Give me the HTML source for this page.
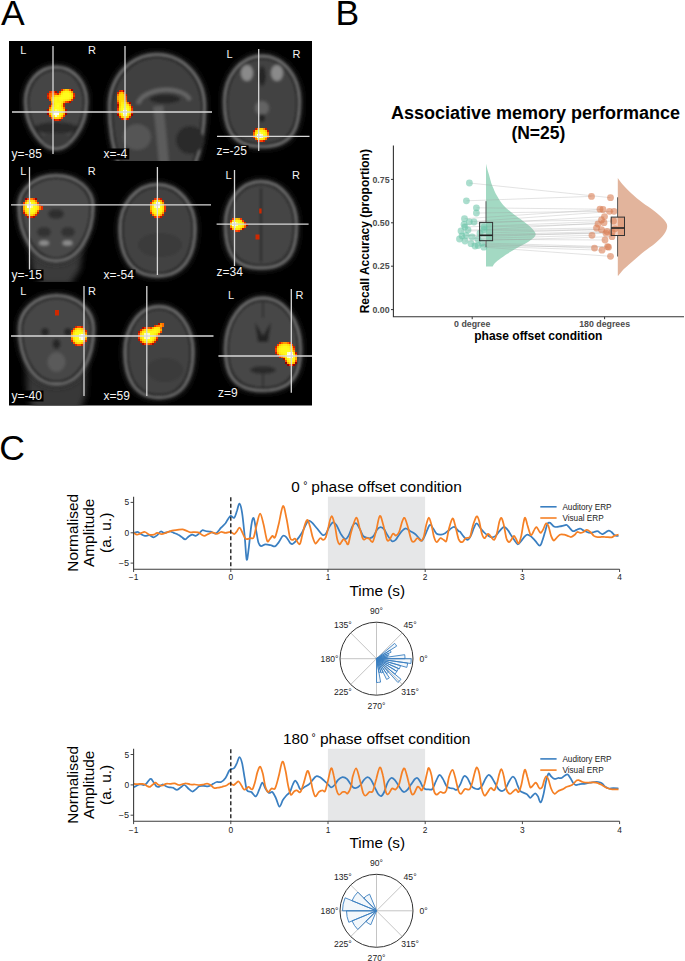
<!DOCTYPE html>
<html><head><meta charset="utf-8"><title>Figure</title>
<style>
html,body{margin:0;padding:0;background:#fff;}
body{width:685px;height:961px;overflow:hidden;position:relative;font-family:"Liberation Sans", sans-serif;}
svg{position:absolute;left:0;top:0;font-family:"Liberation Sans", sans-serif;}
</style></head><body>
<svg width="685" height="961" viewBox="0 0 685 961">
<defs>
<filter id="hb" x="-20%" y="-20%" width="140%" height="140%"><feGaussianBlur stdDeviation="1.6"/></filter>
<filter id="hb3" x="-20%" y="-20%" width="140%" height="140%"><feGaussianBlur stdDeviation="3"/></filter>
<filter id="bb" x="-30%" y="-30%" width="160%" height="160%"><feGaussianBlur stdDeviation="0.7"/></filter>
</defs>
<text x="0.9" y="24.5" font-size="35.5" fill="#000">A</text><text x="335.6" y="24.5" font-size="35.5" fill="#000">B</text><text x="-0.8" y="460.4" font-size="35.5" fill="#000">C</text>
<g id="panelA"><rect x="9" y="41" width="303" height="364.5" fill="#000"/><defs><clipPath id="r1"><rect x="9" y="41" width="303" height="120"/></clipPath><clipPath id="r2"><rect x="9" y="162" width="303" height="120"/></clipPath><clipPath id="r3"><rect x="9" y="283" width="303" height="122.5"/></clipPath></defs><g clip-path="url(#r1)"><g filter="url(#hb3)"><path d="M56.0,64.5 C74.5,64.5 89.0,80.6 89.0,101.0 C89.0,128.8 71.5,151.5 56.0,151.5 C40.5,151.5 23.0,128.8 23.0,101.0 C23.0,80.6 37.5,64.5 56.0,64.5 Z" fill="#2a2a2a"/></g><g filter="url(#hb)"><path d="M56.0,66.8 C73.2,66.8 86.7,82.0 86.7,101.4 C86.7,127.7 69.2,149.2 56.0,149.2 C42.8,149.2 25.3,127.7 25.3,101.4 C25.3,82.0 38.8,66.8 56.0,66.8 Z" fill="#191919" stroke="#7e7e7e" stroke-width="2.2"/><path d="M56.0,70.2 C71.3,70.2 83.3,84.2 83.3,102.0 C83.3,126.1 65.8,145.8 56.0,145.8 C46.2,145.8 28.7,126.1 28.7,102.0 C28.7,84.2 40.7,70.2 56.0,70.2 Z" fill="#454545"/><ellipse cx="56" cy="128" rx="22" ry="6" fill="#222" opacity="0.8"/><ellipse cx="56" cy="140" rx="14" ry="7" fill="#3a3a3a"/></g></g><g clip-path="url(#r1)"><g filter="url(#hb3)"><path d="M157.0,52.0 C185.0,52.0 207.0,75.7 207.0,105.8 C207.0,158.4 188.5,201.5 157.0,201.5 C125.5,201.5 107.0,158.4 107.0,105.8 C107.0,75.7 129.0,52.0 157.0,52.0 Z" fill="#2a2a2a"/></g><g filter="url(#hb)"><path d="M157.0,54.3 C183.7,54.3 204.7,77.3 204.7,106.5 C204.7,157.5 186.2,199.2 157.0,199.2 C127.8,199.2 109.3,157.5 109.3,106.5 C109.3,77.3 130.3,54.3 157.0,54.3 Z" fill="#191919" stroke="#7e7e7e" stroke-width="2.2"/><path d="M157.0,57.7 C181.8,57.7 201.3,79.6 201.3,107.4 C201.3,156.0 182.8,195.8 157.0,195.8 C131.2,195.8 112.7,156.0 112.7,107.4 C112.7,79.6 132.2,57.7 157.0,57.7 Z" fill="#404040"/><path d="M138,104 C142,88 182,84 190,100" fill="none" stroke="#676767" stroke-width="4"/><ellipse cx="165" cy="99" rx="15" ry="4.5" fill="#262626"/><path d="M158,106 C160,120 162,140 164,165" fill="none" stroke="#5c5c5c" stroke-width="10"/><ellipse cx="137" cy="137" rx="14" ry="13" fill="#555"/><ellipse cx="190" cy="140" rx="14" ry="14" fill="#2a2a2a"/></g></g><g clip-path="url(#r1)"><g filter="url(#hb3)"><path d="M262.0,53.5 C284.4,53.5 302.0,74.5 302.0,101.2 C302.0,127.5 296.5,149.0 262.0,149.0 C227.5,149.0 222.0,127.5 222.0,101.2 C222.0,74.5 239.6,53.5 262.0,53.5 Z" fill="#2a2a2a"/></g><g filter="url(#hb)"><path d="M262.0,55.8 C283.1,55.8 299.7,75.8 299.7,101.2 C299.7,126.2 294.2,146.7 262.0,146.7 C229.8,146.7 224.3,126.2 224.3,101.2 C224.3,75.8 240.9,55.8 262.0,55.8 Z" fill="#191919" stroke="#7e7e7e" stroke-width="2.2"/><path d="M262.0,59.2 C281.2,59.2 296.3,77.7 296.3,101.2 C296.3,124.4 290.8,143.3 262.0,143.3 C233.2,143.3 227.7,124.4 227.7,101.2 C227.7,77.7 242.8,59.2 262.0,59.2 Z" fill="#434343"/><ellipse cx="247" cy="73" rx="6" ry="8" fill="#8a8a8a"/><ellipse cx="277" cy="73" rx="6" ry="8" fill="#8a8a8a"/><ellipse cx="262" cy="76" rx="4" ry="10" fill="#252525"/><ellipse cx="262" cy="108" rx="7" ry="7" fill="#646464"/><ellipse cx="262" cy="118" rx="3" ry="4" fill="#222"/></g></g><g clip-path="url(#r2)" filter="url(#hb3)"><path d="M28,240 L84,240 L80,270 L70,285 L42,285 L32,270 Z" fill="#3a3a3a"/></g><g clip-path="url(#r2)"><g filter="url(#hb3)"><path d="M56.0,173.0 C78.1,173.0 95.5,187.3 95.5,205.6 C95.5,237.4 79.5,263.5 56.0,263.5 C32.5,263.5 16.5,237.4 16.5,205.6 C16.5,187.3 33.9,173.0 56.0,173.0 Z" fill="#2a2a2a"/></g><g filter="url(#hb)"><path d="M56.0,175.3 C76.8,175.3 93.2,188.9 93.2,206.2 C93.2,236.5 77.2,261.2 56.0,261.2 C34.8,261.2 18.8,236.5 18.8,206.2 C18.8,188.9 35.2,175.3 56.0,175.3 Z" fill="#191919" stroke="#7e7e7e" stroke-width="2.2"/><path d="M56.0,178.7 C74.9,178.7 89.8,191.2 89.8,207.2 C89.8,235.0 73.8,257.8 56.0,257.8 C38.2,257.8 22.2,235.0 22.2,207.2 C22.2,191.2 37.1,178.7 56.0,178.7 Z" fill="#484848"/><ellipse cx="56" cy="214" rx="8" ry="5" fill="#2e2e2e"/><ellipse cx="44" cy="243" rx="5" ry="2.5" fill="#909090"/><ellipse cx="67.5" cy="243" rx="5" ry="2.5" fill="#909090"/><ellipse cx="44" cy="232" rx="7" ry="5" fill="#333"/><ellipse cx="68" cy="232" rx="7" ry="5" fill="#333"/></g></g><g clip-path="url(#r2)"><g filter="url(#hb3)"><path d="M157.5,182.0 C179.9,182.0 197.5,202.4 197.5,228.3 C197.5,255.9 187.0,278.5 157.5,278.5 C128.0,278.5 117.5,255.9 117.5,228.3 C117.5,202.4 135.1,182.0 157.5,182.0 Z" fill="#2a2a2a"/></g><g filter="url(#hb)"><path d="M157.5,184.3 C178.6,184.3 195.2,203.7 195.2,228.4 C195.2,254.7 184.7,276.2 157.5,276.2 C130.3,276.2 119.8,254.7 119.8,228.4 C119.8,203.7 136.4,184.3 157.5,184.3 Z" fill="#191919" stroke="#7e7e7e" stroke-width="2.2"/><path d="M157.5,187.7 C176.7,187.7 191.8,205.7 191.8,228.5 C191.8,252.9 181.3,272.8 157.5,272.8 C133.7,272.8 123.2,252.9 123.2,228.5 C123.2,205.7 138.3,187.7 157.5,187.7 Z" fill="#424242"/><ellipse cx="160" cy="245" rx="22" ry="12" fill="#3a3a3a"/></g></g><g clip-path="url(#r2)"><g filter="url(#hb3)"><path d="M261.0,179.0 C282.3,179.0 299.0,199.1 299.0,224.8 C299.0,249.9 293.5,270.5 261.0,270.5 C228.5,270.5 223.0,249.9 223.0,224.8 C223.0,199.1 239.7,179.0 261.0,179.0 Z" fill="#2a2a2a"/></g><g filter="url(#hb)"><path d="M261.0,181.3 C281.0,181.3 296.7,200.4 296.7,224.8 C296.7,248.6 291.2,268.2 261.0,268.2 C230.8,268.2 225.3,248.6 225.3,224.8 C225.3,200.4 241.0,181.3 261.0,181.3 Z" fill="#191919" stroke="#7e7e7e" stroke-width="2.2"/><path d="M261.0,184.7 C279.1,184.7 293.3,202.3 293.3,224.8 C293.3,246.8 287.8,264.8 261.0,264.8 C234.2,264.8 228.7,246.8 228.7,224.8 C228.7,202.3 242.9,184.7 261.0,184.7 Z" fill="#444444"/><line x1="261" y1="188" x2="261" y2="262" stroke="#262626" stroke-width="2"/></g></g><g clip-path="url(#r3)" filter="url(#hb3)"><path d="M26,355 L87,355 L86,395 L80,410 L34,410 L27,395 Z" fill="#383838"/></g><g clip-path="url(#r3)"><g filter="url(#hb3)"><path d="M56.5,293.0 C78.6,293.0 96.0,308.6 96.0,328.5 C96.0,360.4 82.0,386.5 56.5,386.5 C31.0,386.5 17.0,360.4 17.0,328.5 C17.0,308.6 34.4,293.0 56.5,293.0 Z" fill="#2a2a2a"/></g><g filter="url(#hb)"><path d="M56.5,295.3 C77.3,295.3 93.7,310.2 93.7,329.1 C93.7,359.4 79.7,384.2 56.5,384.2 C33.3,384.2 19.3,359.4 19.3,329.1 C19.3,310.2 35.7,295.3 56.5,295.3 Z" fill="#191919" stroke="#7e7e7e" stroke-width="2.2"/><path d="M56.5,298.7 C75.4,298.7 90.3,312.4 90.3,329.9 C90.3,357.9 76.3,380.8 56.5,380.8 C36.7,380.8 22.7,357.9 22.7,329.9 C22.7,312.4 37.6,298.7 56.5,298.7 Z" fill="#464646"/><ellipse cx="45" cy="332" rx="4" ry="4" fill="#262626"/><ellipse cx="68" cy="332" rx="4" ry="4" fill="#262626"/><ellipse cx="56.5" cy="344" rx="4" ry="5" fill="#262626"/><ellipse cx="56.5" cy="362" rx="9" ry="10" fill="#5a5a5a"/></g></g><g clip-path="url(#r3)"><g filter="url(#hb3)"><path d="M159.0,304.0 C179.4,304.0 195.5,325.1 195.5,352.0 C195.5,378.4 186.5,400.0 159.0,400.0 C131.5,400.0 122.5,378.4 122.5,352.0 C122.5,325.1 138.6,304.0 159.0,304.0 Z" fill="#2a2a2a"/></g><g filter="url(#hb)"><path d="M159.0,306.3 C178.2,306.3 193.2,326.4 193.2,352.0 C193.2,377.1 184.2,397.7 159.0,397.7 C133.8,397.7 124.8,377.1 124.8,352.0 C124.8,326.4 139.8,306.3 159.0,306.3 Z" fill="#191919" stroke="#7e7e7e" stroke-width="2.2"/><path d="M159.0,309.7 C176.2,309.7 189.8,328.3 189.8,352.0 C189.8,375.3 180.8,394.3 159.0,394.3 C137.2,394.3 128.2,375.3 128.2,352.0 C128.2,328.3 141.8,309.7 159.0,309.7 Z" fill="#424242"/><ellipse cx="165" cy="370" rx="18" ry="12" fill="#3a3a3a"/></g></g><g clip-path="url(#r3)"><g filter="url(#hb3)"><path d="M263.0,295.5 C285.4,295.5 303.0,319.1 303.0,349.1 C303.0,373.3 296.5,393.0 263.0,393.0 C229.5,393.0 223.0,373.3 223.0,349.1 C223.0,319.1 240.6,295.5 263.0,295.5 Z" fill="#2a2a2a"/></g><g filter="url(#hb)"><path d="M263.0,297.8 C284.1,297.8 300.7,320.3 300.7,348.9 C300.7,371.9 294.2,390.7 263.0,390.7 C231.8,390.7 225.3,371.9 225.3,348.9 C225.3,320.3 241.9,297.8 263.0,297.8 Z" fill="#191919" stroke="#7e7e7e" stroke-width="2.2"/><path d="M263.0,301.2 C282.2,301.2 297.3,322.0 297.3,348.6 C297.3,369.9 290.8,387.3 263.0,387.3 C235.2,387.3 228.7,369.9 228.7,348.6 C228.7,322.0 243.8,301.2 263.0,301.2 Z" fill="#464646"/><path d="M255 322 L263 336 L271 322 L268 342 L258 342 Z" fill="#242424"/><ellipse cx="263" cy="370" rx="13" ry="4" fill="#2c2c2c"/><line x1="263" y1="300" x2="263" y2="318" stroke="#2a2a2a" stroke-width="1.5"/><line x1="263" y1="372" x2="263" y2="388" stroke="#2a2a2a" stroke-width="1.5"/></g></g><g filter="url(#bb)"><rect x="61.0" y="89.0" width="2.05" height="2.05" fill="#e02c00"/><rect x="63.0" y="89.0" width="2.05" height="2.05" fill="#ff9900"/><rect x="65.0" y="89.0" width="2.05" height="2.05" fill="#ffcc00"/><rect x="67.0" y="89.0" width="2.05" height="2.05" fill="#ffbc00"/><rect x="69.0" y="89.0" width="2.05" height="2.05" fill="#ff6100"/><rect x="71.0" y="89.0" width="2.05" height="2.05" fill="#a20500"/><rect x="49.0" y="91.0" width="2.05" height="2.05" fill="#e12d00"/><rect x="51.0" y="91.0" width="2.05" height="2.05" fill="#ff4800"/><rect x="53.0" y="91.0" width="2.05" height="2.05" fill="#fb3d00"/><rect x="55.0" y="91.0" width="2.05" height="2.05" fill="#b31000"/><rect x="59.0" y="91.0" width="2.05" height="2.05" fill="#e83100"/><rect x="61.0" y="91.0" width="2.05" height="2.05" fill="#ffd405"/><rect x="63.0" y="91.0" width="2.05" height="2.05" fill="#ffef15"/><rect x="65.0" y="91.0" width="2.05" height="2.05" fill="#fff619"/><rect x="67.0" y="91.0" width="2.05" height="2.05" fill="#fff418"/><rect x="69.0" y="91.0" width="2.05" height="2.05" fill="#ffe60f"/><rect x="71.0" y="91.0" width="2.05" height="2.05" fill="#ff9100"/><rect x="47.0" y="93.0" width="2.05" height="2.05" fill="#c41b00"/><rect x="49.0" y="93.0" width="2.05" height="2.05" fill="#ff5f00"/><rect x="51.0" y="93.0" width="2.05" height="2.05" fill="#ff6d00"/><rect x="53.0" y="93.0" width="2.05" height="2.05" fill="#ff6f00"/><rect x="55.0" y="93.0" width="2.05" height="2.05" fill="#ff5800"/><rect x="57.0" y="93.0" width="2.05" height="2.05" fill="#e32e00"/><rect x="59.0" y="93.0" width="2.05" height="2.05" fill="#ffac00"/><rect x="61.0" y="93.0" width="2.05" height="2.05" fill="#ffee14"/><rect x="63.0" y="93.0" width="2.05" height="2.05" fill="#fffa1b"/><rect x="65.0" y="93.0" width="2.05" height="2.05" fill="#fffb1c"/><rect x="67.0" y="93.0" width="2.05" height="2.05" fill="#fffb1c"/><rect x="69.0" y="93.0" width="2.05" height="2.05" fill="#fff619"/><rect x="71.0" y="93.0" width="2.05" height="2.05" fill="#ffdb09"/><rect x="73.0" y="93.0" width="2.05" height="2.05" fill="#e02c00"/><rect x="47.0" y="95.0" width="2.05" height="2.05" fill="#de2b00"/><rect x="49.0" y="95.0" width="2.05" height="2.05" fill="#ff6900"/><rect x="51.0" y="95.0" width="2.05" height="2.05" fill="#ff7c00"/><rect x="53.0" y="95.0" width="2.05" height="2.05" fill="#ffbf00"/><rect x="55.0" y="95.0" width="2.05" height="2.05" fill="#ffdb09"/><rect x="57.0" y="95.0" width="2.05" height="2.05" fill="#ffda08"/><rect x="59.0" y="95.0" width="2.05" height="2.05" fill="#ffe911"/><rect x="61.0" y="95.0" width="2.05" height="2.05" fill="#fff81a"/><rect x="63.0" y="95.0" width="2.05" height="2.05" fill="#fffb1c"/><rect x="65.0" y="95.0" width="2.05" height="2.05" fill="#fffb1c"/><rect x="67.0" y="95.0" width="2.05" height="2.05" fill="#fffb1c"/><rect x="69.0" y="95.0" width="2.05" height="2.05" fill="#fff81a"/><rect x="71.0" y="95.0" width="2.05" height="2.05" fill="#ffe10c"/><rect x="73.0" y="95.0" width="2.05" height="2.05" fill="#f23700"/><rect x="47.0" y="97.0" width="2.05" height="2.05" fill="#c41b00"/><rect x="49.0" y="97.0" width="2.05" height="2.05" fill="#ff6300"/><rect x="51.0" y="97.0" width="2.05" height="2.05" fill="#ffb700"/><rect x="53.0" y="97.0" width="2.05" height="2.05" fill="#ffea12"/><rect x="55.0" y="97.0" width="2.05" height="2.05" fill="#fff71a"/><rect x="57.0" y="97.0" width="2.05" height="2.05" fill="#fff518"/><rect x="59.0" y="97.0" width="2.05" height="2.05" fill="#fff91b"/><rect x="61.0" y="97.0" width="2.05" height="2.05" fill="#fffd1d"/><rect x="63.0" y="97.0" width="2.05" height="2.05" fill="#fffc1d"/><rect x="65.0" y="97.0" width="2.05" height="2.05" fill="#fffa1c"/><rect x="67.0" y="97.0" width="2.05" height="2.05" fill="#fff91b"/><rect x="69.0" y="97.0" width="2.05" height="2.05" fill="#fff116"/><rect x="71.0" y="97.0" width="2.05" height="2.05" fill="#ffce01"/><rect x="73.0" y="97.0" width="2.05" height="2.05" fill="#bf1700"/><rect x="49.0" y="99.0" width="2.05" height="2.05" fill="#ee3500"/><rect x="51.0" y="99.0" width="2.05" height="2.05" fill="#ffcf02"/><rect x="53.0" y="99.0" width="2.05" height="2.05" fill="#fff418"/><rect x="55.0" y="99.0" width="2.05" height="2.05" fill="#fff81a"/><rect x="57.0" y="99.0" width="2.05" height="2.05" fill="#fff317"/><rect x="59.0" y="99.0" width="2.05" height="2.05" fill="#fff71a"/><rect x="61.0" y="99.0" width="2.05" height="2.05" fill="#fff91b"/><rect x="63.0" y="99.0" width="2.05" height="2.05" fill="#fff116"/><rect x="65.0" y="99.0" width="2.05" height="2.05" fill="#ffea12"/><rect x="67.0" y="99.0" width="2.05" height="2.05" fill="#ffe50f"/><rect x="69.0" y="99.0" width="2.05" height="2.05" fill="#ffce01"/><rect x="71.0" y="99.0" width="2.05" height="2.05" fill="#f43900"/><rect x="51.0" y="101.0" width="2.05" height="2.05" fill="#ff8c00"/><rect x="53.0" y="101.0" width="2.05" height="2.05" fill="#ffee14"/><rect x="55.0" y="101.0" width="2.05" height="2.05" fill="#fff71a"/><rect x="57.0" y="101.0" width="2.05" height="2.05" fill="#fff619"/><rect x="59.0" y="101.0" width="2.05" height="2.05" fill="#fff518"/><rect x="61.0" y="101.0" width="2.05" height="2.05" fill="#ffeb13"/><rect x="63.0" y="101.0" width="2.05" height="2.05" fill="#ffb700"/><rect x="65.0" y="101.0" width="2.05" height="2.05" fill="#ff5100"/><rect x="67.0" y="101.0" width="2.05" height="2.05" fill="#f23700"/><rect x="69.0" y="101.0" width="2.05" height="2.05" fill="#b10f00"/><rect x="51.0" y="103.0" width="2.05" height="2.05" fill="#ff5600"/><rect x="53.0" y="103.0" width="2.05" height="2.05" fill="#ffe911"/><rect x="55.0" y="103.0" width="2.05" height="2.05" fill="#fffc1d"/><rect x="57.0" y="103.0" width="2.05" height="2.05" fill="#fffe1e"/><rect x="59.0" y="103.0" width="2.05" height="2.05" fill="#fff91b"/><rect x="61.0" y="103.0" width="2.05" height="2.05" fill="#ffdc09"/><rect x="63.0" y="103.0" width="2.05" height="2.05" fill="#d32400"/><rect x="49.0" y="105.0" width="2.05" height="2.05" fill="#c81d00"/><rect x="51.0" y="105.0" width="2.05" height="2.05" fill="#ffb400"/><rect x="53.0" y="105.0" width="2.05" height="2.05" fill="#ffee14"/><rect x="55.0" y="105.0" width="2.05" height="2.05" fill="#fffd1d"/><rect x="57.0" y="105.0" width="2.05" height="2.05" fill="#ffff29"/><rect x="59.0" y="105.0" width="2.05" height="2.05" fill="#fff71a"/><rect x="61.0" y="105.0" width="2.05" height="2.05" fill="#ffd505"/><rect x="63.0" y="105.0" width="2.05" height="2.05" fill="#d62600"/><rect x="49.0" y="107.0" width="2.05" height="2.05" fill="#ff7c00"/><rect x="51.0" y="107.0" width="2.05" height="2.05" fill="#ffe60f"/><rect x="53.0" y="107.0" width="2.05" height="2.05" fill="#fff91b"/><rect x="55.0" y="107.0" width="2.05" height="2.05" fill="#fffe1e"/><rect x="57.0" y="107.0" width="2.05" height="2.05" fill="#ffff1f"/><rect x="59.0" y="107.0" width="2.05" height="2.05" fill="#fffa1b"/><rect x="61.0" y="107.0" width="2.05" height="2.05" fill="#ffe610"/><rect x="63.0" y="107.0" width="2.05" height="2.05" fill="#ff7c00"/><rect x="47.0" y="109.0" width="2.05" height="2.05" fill="#b31000"/><rect x="49.0" y="109.0" width="2.05" height="2.05" fill="#ffc600"/><rect x="51.0" y="109.0" width="2.05" height="2.05" fill="#fff317"/><rect x="53.0" y="109.0" width="2.05" height="2.05" fill="#ffff1f"/><rect x="55.0" y="109.0" width="2.05" height="2.05" fill="#ffff60"/><rect x="57.0" y="109.0" width="2.05" height="2.05" fill="#ffff34"/><rect x="59.0" y="109.0" width="2.05" height="2.05" fill="#fffe1e"/><rect x="61.0" y="109.0" width="2.05" height="2.05" fill="#fff317"/><rect x="63.0" y="109.0" width="2.05" height="2.05" fill="#ffc600"/><rect x="65.0" y="109.0" width="2.05" height="2.05" fill="#b31000"/><rect x="47.0" y="111.0" width="2.05" height="2.05" fill="#bd1600"/><rect x="49.0" y="111.0" width="2.05" height="2.05" fill="#ffce01"/><rect x="51.0" y="111.0" width="2.05" height="2.05" fill="#fff619"/><rect x="53.0" y="111.0" width="2.05" height="2.05" fill="#ffffd8"/><rect x="55.0" y="111.0" width="2.05" height="2.05" fill="#fffff2"/><rect x="57.0" y="111.0" width="2.05" height="2.05" fill="#ffffda"/><rect x="59.0" y="111.0" width="2.05" height="2.05" fill="#ffff1f"/><rect x="61.0" y="111.0" width="2.05" height="2.05" fill="#fff519"/><rect x="63.0" y="111.0" width="2.05" height="2.05" fill="#ffce01"/><rect x="65.0" y="111.0" width="2.05" height="2.05" fill="#bd1600"/><rect x="47.0" y="113.0" width="2.05" height="2.05" fill="#a00400"/><rect x="49.0" y="113.0" width="2.05" height="2.05" fill="#ffa900"/><rect x="51.0" y="113.0" width="2.05" height="2.05" fill="#fff016"/><rect x="53.0" y="113.0" width="2.05" height="2.05" fill="#fffff2"/><rect x="55.0" y="113.0" width="2.05" height="2.05" fill="#fffff2"/><rect x="57.0" y="113.0" width="2.05" height="2.05" fill="#fffff2"/><rect x="59.0" y="113.0" width="2.05" height="2.05" fill="#fffd1d"/><rect x="61.0" y="113.0" width="2.05" height="2.05" fill="#ffef15"/><rect x="63.0" y="113.0" width="2.05" height="2.05" fill="#ffa900"/><rect x="65.0" y="113.0" width="2.05" height="2.05" fill="#a00400"/><rect x="49.0" y="115.0" width="2.05" height="2.05" fill="#fe3f00"/><rect x="51.0" y="115.0" width="2.05" height="2.05" fill="#ffd706"/><rect x="53.0" y="115.0" width="2.05" height="2.05" fill="#fffc1d"/><rect x="55.0" y="115.0" width="2.05" height="2.05" fill="#ffffcb"/><rect x="57.0" y="115.0" width="2.05" height="2.05" fill="#ffff46"/><rect x="59.0" y="115.0" width="2.05" height="2.05" fill="#fff116"/><rect x="61.0" y="115.0" width="2.05" height="2.05" fill="#ffd706"/><rect x="63.0" y="115.0" width="2.05" height="2.05" fill="#fe3f00"/><rect x="51.0" y="117.0" width="2.05" height="2.05" fill="#ff4e00"/><rect x="53.0" y="117.0" width="2.05" height="2.05" fill="#ffc600"/><rect x="55.0" y="117.0" width="2.05" height="2.05" fill="#ffdb09"/><rect x="57.0" y="117.0" width="2.05" height="2.05" fill="#ffdb09"/><rect x="59.0" y="117.0" width="2.05" height="2.05" fill="#ffc600"/><rect x="61.0" y="117.0" width="2.05" height="2.05" fill="#ff4e00"/><rect x="53.0" y="119.0" width="2.05" height="2.05" fill="#bd1600"/><rect x="55.0" y="119.0" width="2.05" height="2.05" fill="#e83100"/><rect x="57.0" y="119.0" width="2.05" height="2.05" fill="#e83100"/><rect x="59.0" y="119.0" width="2.05" height="2.05" fill="#bd1600"/></g><g filter="url(#bb)"><rect x="119.0" y="90.0" width="2.05" height="2.05" fill="#d72600"/><rect x="121.0" y="90.0" width="2.05" height="2.05" fill="#f13700"/><rect x="123.0" y="90.0" width="2.05" height="2.05" fill="#a30600"/><rect x="117.0" y="92.0" width="2.05" height="2.05" fill="#d72700"/><rect x="119.0" y="92.0" width="2.05" height="2.05" fill="#ffab00"/><rect x="121.0" y="92.0" width="2.05" height="2.05" fill="#ffc100"/><rect x="123.0" y="92.0" width="2.05" height="2.05" fill="#ff7300"/><rect x="117.0" y="94.0" width="2.05" height="2.05" fill="#ff7e00"/><rect x="119.0" y="94.0" width="2.05" height="2.05" fill="#ffd304"/><rect x="121.0" y="94.0" width="2.05" height="2.05" fill="#ffd505"/><rect x="123.0" y="94.0" width="2.05" height="2.05" fill="#ffc700"/><rect x="125.0" y="94.0" width="2.05" height="2.05" fill="#c61c00"/><rect x="117.0" y="96.0" width="2.05" height="2.05" fill="#ffac00"/><rect x="119.0" y="96.0" width="2.05" height="2.05" fill="#ffd505"/><rect x="121.0" y="96.0" width="2.05" height="2.05" fill="#ffd606"/><rect x="123.0" y="96.0" width="2.05" height="2.05" fill="#ffd203"/><rect x="125.0" y="96.0" width="2.05" height="2.05" fill="#f33800"/><rect x="117.0" y="98.0" width="2.05" height="2.05" fill="#ffac00"/><rect x="119.0" y="98.0" width="2.05" height="2.05" fill="#ffd606"/><rect x="121.0" y="98.0" width="2.05" height="2.05" fill="#ffd706"/><rect x="123.0" y="98.0" width="2.05" height="2.05" fill="#ffd405"/><rect x="125.0" y="98.0" width="2.05" height="2.05" fill="#ff4000"/><rect x="117.0" y="100.0" width="2.05" height="2.05" fill="#ff7f00"/><rect x="119.0" y="100.0" width="2.05" height="2.05" fill="#ffd606"/><rect x="121.0" y="100.0" width="2.05" height="2.05" fill="#ffdf0b"/><rect x="123.0" y="100.0" width="2.05" height="2.05" fill="#ffde0b"/><rect x="125.0" y="100.0" width="2.05" height="2.05" fill="#ff7000"/><rect x="117.0" y="102.0" width="2.05" height="2.05" fill="#e63000"/><rect x="119.0" y="102.0" width="2.05" height="2.05" fill="#ffd505"/><rect x="121.0" y="102.0" width="2.05" height="2.05" fill="#ffec13"/><rect x="123.0" y="102.0" width="2.05" height="2.05" fill="#ffec13"/><rect x="125.0" y="102.0" width="2.05" height="2.05" fill="#ffd304"/><rect x="127.0" y="102.0" width="2.05" height="2.05" fill="#ff6c00"/><rect x="129.0" y="102.0" width="2.05" height="2.05" fill="#a60800"/><rect x="117.0" y="104.0" width="2.05" height="2.05" fill="#ad0c00"/><rect x="119.0" y="104.0" width="2.05" height="2.05" fill="#ffd103"/><rect x="121.0" y="104.0" width="2.05" height="2.05" fill="#fff317"/><rect x="123.0" y="104.0" width="2.05" height="2.05" fill="#fff81a"/><rect x="125.0" y="104.0" width="2.05" height="2.05" fill="#fff317"/><rect x="127.0" y="104.0" width="2.05" height="2.05" fill="#ffe10c"/><rect x="129.0" y="104.0" width="2.05" height="2.05" fill="#ff7200"/><rect x="117.0" y="106.0" width="2.05" height="2.05" fill="#c61c00"/><rect x="119.0" y="106.0" width="2.05" height="2.05" fill="#ffd908"/><rect x="121.0" y="106.0" width="2.05" height="2.05" fill="#fff91b"/><rect x="123.0" y="106.0" width="2.05" height="2.05" fill="#fffe1e"/><rect x="125.0" y="106.0" width="2.05" height="2.05" fill="#fffd1d"/><rect x="127.0" y="106.0" width="2.05" height="2.05" fill="#fff719"/><rect x="129.0" y="106.0" width="2.05" height="2.05" fill="#ffd505"/><rect x="131.0" y="106.0" width="2.05" height="2.05" fill="#c31a00"/><rect x="117.0" y="108.0" width="2.05" height="2.05" fill="#f33800"/><rect x="119.0" y="108.0" width="2.05" height="2.05" fill="#ffe60f"/><rect x="121.0" y="108.0" width="2.05" height="2.05" fill="#fffd1d"/><rect x="123.0" y="108.0" width="2.05" height="2.05" fill="#ffff4c"/><rect x="125.0" y="108.0" width="2.05" height="2.05" fill="#ffff4c"/><rect x="127.0" y="108.0" width="2.05" height="2.05" fill="#fffd1d"/><rect x="129.0" y="108.0" width="2.05" height="2.05" fill="#ffe60f"/><rect x="131.0" y="108.0" width="2.05" height="2.05" fill="#f33800"/><rect x="117.0" y="110.0" width="2.05" height="2.05" fill="#fd3f00"/><rect x="119.0" y="110.0" width="2.05" height="2.05" fill="#ffe811"/><rect x="121.0" y="110.0" width="2.05" height="2.05" fill="#ffff25"/><rect x="123.0" y="110.0" width="2.05" height="2.05" fill="#fffff2"/><rect x="125.0" y="110.0" width="2.05" height="2.05" fill="#fffff2"/><rect x="127.0" y="110.0" width="2.05" height="2.05" fill="#ffff25"/><rect x="129.0" y="110.0" width="2.05" height="2.05" fill="#ffe811"/><rect x="131.0" y="110.0" width="2.05" height="2.05" fill="#fd3f00"/><rect x="117.0" y="112.0" width="2.05" height="2.05" fill="#df2c00"/><rect x="119.0" y="112.0" width="2.05" height="2.05" fill="#ffdf0b"/><rect x="121.0" y="112.0" width="2.05" height="2.05" fill="#ffff1f"/><rect x="123.0" y="112.0" width="2.05" height="2.05" fill="#fffff2"/><rect x="125.0" y="112.0" width="2.05" height="2.05" fill="#fffff2"/><rect x="127.0" y="112.0" width="2.05" height="2.05" fill="#ffff1f"/><rect x="129.0" y="112.0" width="2.05" height="2.05" fill="#ffdf0b"/><rect x="131.0" y="112.0" width="2.05" height="2.05" fill="#df2c00"/><rect x="117.0" y="114.0" width="2.05" height="2.05" fill="#a00400"/><rect x="119.0" y="114.0" width="2.05" height="2.05" fill="#ffb600"/><rect x="121.0" y="114.0" width="2.05" height="2.05" fill="#ffef15"/><rect x="123.0" y="114.0" width="2.05" height="2.05" fill="#ffffa6"/><rect x="125.0" y="114.0" width="2.05" height="2.05" fill="#ffffa6"/><rect x="127.0" y="114.0" width="2.05" height="2.05" fill="#ffef15"/><rect x="129.0" y="114.0" width="2.05" height="2.05" fill="#ffb600"/><rect x="131.0" y="114.0" width="2.05" height="2.05" fill="#a00400"/><rect x="119.0" y="116.0" width="2.05" height="2.05" fill="#e73000"/><rect x="121.0" y="116.0" width="2.05" height="2.05" fill="#ffc900"/><rect x="123.0" y="116.0" width="2.05" height="2.05" fill="#ffe20d"/><rect x="125.0" y="116.0" width="2.05" height="2.05" fill="#ffe20d"/><rect x="127.0" y="116.0" width="2.05" height="2.05" fill="#ffc900"/><rect x="129.0" y="116.0" width="2.05" height="2.05" fill="#e73000"/><rect x="121.0" y="118.0" width="2.05" height="2.05" fill="#cf2100"/><rect x="123.0" y="118.0" width="2.05" height="2.05" fill="#ff5300"/><rect x="125.0" y="118.0" width="2.05" height="2.05" fill="#ff5300"/><rect x="127.0" y="118.0" width="2.05" height="2.05" fill="#cf2100"/></g><g filter="url(#bb)"><rect x="255.0" y="128.0" width="2.05" height="2.05" fill="#c51b00"/><rect x="257.0" y="128.0" width="2.05" height="2.05" fill="#ff8700"/><rect x="259.0" y="128.0" width="2.05" height="2.05" fill="#ffcd00"/><rect x="261.0" y="128.0" width="2.05" height="2.05" fill="#ffcd00"/><rect x="263.0" y="128.0" width="2.05" height="2.05" fill="#ff8700"/><rect x="265.0" y="128.0" width="2.05" height="2.05" fill="#c51b00"/><rect x="253.0" y="130.0" width="2.05" height="2.05" fill="#bf1800"/><rect x="255.0" y="130.0" width="2.05" height="2.05" fill="#ffc800"/><rect x="257.0" y="130.0" width="2.05" height="2.05" fill="#ffef15"/><rect x="259.0" y="130.0" width="2.05" height="2.05" fill="#fff91b"/><rect x="261.0" y="130.0" width="2.05" height="2.05" fill="#fff91b"/><rect x="263.0" y="130.0" width="2.05" height="2.05" fill="#ffef15"/><rect x="265.0" y="130.0" width="2.05" height="2.05" fill="#ffc800"/><rect x="267.0" y="130.0" width="2.05" height="2.05" fill="#bf1800"/><rect x="253.0" y="132.0" width="2.05" height="2.05" fill="#ff6100"/><rect x="255.0" y="132.0" width="2.05" height="2.05" fill="#ffe911"/><rect x="257.0" y="132.0" width="2.05" height="2.05" fill="#fffe1e"/><rect x="259.0" y="132.0" width="2.05" height="2.05" fill="#ffff5b"/><rect x="261.0" y="132.0" width="2.05" height="2.05" fill="#ffff2a"/><rect x="263.0" y="132.0" width="2.05" height="2.05" fill="#fffd1d"/><rect x="265.0" y="132.0" width="2.05" height="2.05" fill="#ffe911"/><rect x="267.0" y="132.0" width="2.05" height="2.05" fill="#ff6100"/><rect x="253.0" y="134.0" width="2.05" height="2.05" fill="#ff7900"/><rect x="255.0" y="134.0" width="2.05" height="2.05" fill="#fff317"/><rect x="257.0" y="134.0" width="2.05" height="2.05" fill="#fffff2"/><rect x="259.0" y="134.0" width="2.05" height="2.05" fill="#fffff2"/><rect x="261.0" y="134.0" width="2.05" height="2.05" fill="#ffffbf"/><rect x="263.0" y="134.0" width="2.05" height="2.05" fill="#fffe1e"/><rect x="265.0" y="134.0" width="2.05" height="2.05" fill="#ffee14"/><rect x="267.0" y="134.0" width="2.05" height="2.05" fill="#ff7900"/><rect x="253.0" y="136.0" width="2.05" height="2.05" fill="#f33800"/><rect x="255.0" y="136.0" width="2.05" height="2.05" fill="#ffe610"/><rect x="257.0" y="136.0" width="2.05" height="2.05" fill="#fffff2"/><rect x="259.0" y="136.0" width="2.05" height="2.05" fill="#fffff2"/><rect x="261.0" y="136.0" width="2.05" height="2.05" fill="#ffffb9"/><rect x="263.0" y="136.0" width="2.05" height="2.05" fill="#fff91b"/><rect x="265.0" y="136.0" width="2.05" height="2.05" fill="#ffdf0b"/><rect x="267.0" y="136.0" width="2.05" height="2.05" fill="#f33800"/><rect x="255.0" y="138.0" width="2.05" height="2.05" fill="#ff6900"/><rect x="257.0" y="138.0" width="2.05" height="2.05" fill="#ffe00c"/><rect x="259.0" y="138.0" width="2.05" height="2.05" fill="#fff317"/><rect x="261.0" y="138.0" width="2.05" height="2.05" fill="#ffec13"/><rect x="263.0" y="138.0" width="2.05" height="2.05" fill="#ffda08"/><rect x="265.0" y="138.0" width="2.05" height="2.05" fill="#ff6900"/><rect x="257.0" y="140.0" width="2.05" height="2.05" fill="#c91e00"/><rect x="259.0" y="140.0" width="2.05" height="2.05" fill="#ff4000"/><rect x="261.0" y="140.0" width="2.05" height="2.05" fill="#ff4000"/><rect x="263.0" y="140.0" width="2.05" height="2.05" fill="#c91e00"/></g><g filter="url(#bb)"><rect x="25.0" y="198.0" width="2.05" height="2.05" fill="#a10500"/><rect x="27.0" y="198.0" width="2.05" height="2.05" fill="#fe3f00"/><rect x="29.0" y="198.0" width="2.05" height="2.05" fill="#ff8400"/><rect x="31.0" y="198.0" width="2.05" height="2.05" fill="#ff8400"/><rect x="33.0" y="198.0" width="2.05" height="2.05" fill="#fe3f00"/><rect x="35.0" y="198.0" width="2.05" height="2.05" fill="#a10500"/><rect x="25.0" y="200.0" width="2.05" height="2.05" fill="#ff7300"/><rect x="27.0" y="200.0" width="2.05" height="2.05" fill="#ffd807"/><rect x="29.0" y="200.0" width="2.05" height="2.05" fill="#ffe811"/><rect x="31.0" y="200.0" width="2.05" height="2.05" fill="#ffe811"/><rect x="33.0" y="200.0" width="2.05" height="2.05" fill="#ffd807"/><rect x="35.0" y="200.0" width="2.05" height="2.05" fill="#ff7300"/><rect x="23.0" y="202.0" width="2.05" height="2.05" fill="#f33800"/><rect x="25.0" y="202.0" width="2.05" height="2.05" fill="#ffd807"/><rect x="27.0" y="202.0" width="2.05" height="2.05" fill="#ffff3e"/><rect x="29.0" y="202.0" width="2.05" height="2.05" fill="#ffffc8"/><rect x="31.0" y="202.0" width="2.05" height="2.05" fill="#fffd1d"/><rect x="33.0" y="202.0" width="2.05" height="2.05" fill="#fff418"/><rect x="35.0" y="202.0" width="2.05" height="2.05" fill="#ffd807"/><rect x="37.0" y="202.0" width="2.05" height="2.05" fill="#f33800"/><rect x="23.0" y="204.0" width="2.05" height="2.05" fill="#ff8800"/><rect x="25.0" y="204.0" width="2.05" height="2.05" fill="#ffee14"/><rect x="27.0" y="204.0" width="2.05" height="2.05" fill="#fffff2"/><rect x="29.0" y="204.0" width="2.05" height="2.05" fill="#fffff2"/><rect x="31.0" y="204.0" width="2.05" height="2.05" fill="#ffffa5"/><rect x="33.0" y="204.0" width="2.05" height="2.05" fill="#fffc1d"/><rect x="35.0" y="204.0" width="2.05" height="2.05" fill="#ffec13"/><rect x="37.0" y="204.0" width="2.05" height="2.05" fill="#ff9200"/><rect x="39.0" y="204.0" width="2.05" height="2.05" fill="#a70900"/><rect x="23.0" y="206.0" width="2.05" height="2.05" fill="#ffad00"/><rect x="25.0" y="206.0" width="2.05" height="2.05" fill="#fff317"/><rect x="27.0" y="206.0" width="2.05" height="2.05" fill="#ffffe7"/><rect x="29.0" y="206.0" width="2.05" height="2.05" fill="#fffff2"/><rect x="31.0" y="206.0" width="2.05" height="2.05" fill="#ffff7c"/><rect x="33.0" y="206.0" width="2.05" height="2.05" fill="#fffe1e"/><rect x="35.0" y="206.0" width="2.05" height="2.05" fill="#fff418"/><rect x="37.0" y="206.0" width="2.05" height="2.05" fill="#ffdf0b"/><rect x="39.0" y="206.0" width="2.05" height="2.05" fill="#ff7f00"/><rect x="41.0" y="206.0" width="2.05" height="2.05" fill="#e52f00"/><rect x="23.0" y="208.0" width="2.05" height="2.05" fill="#ffa100"/><rect x="25.0" y="208.0" width="2.05" height="2.05" fill="#fff116"/><rect x="27.0" y="208.0" width="2.05" height="2.05" fill="#ffff23"/><rect x="29.0" y="208.0" width="2.05" height="2.05" fill="#ffff5b"/><rect x="31.0" y="208.0" width="2.05" height="2.05" fill="#ffff28"/><rect x="33.0" y="208.0" width="2.05" height="2.05" fill="#fffe1e"/><rect x="35.0" y="208.0" width="2.05" height="2.05" fill="#fff217"/><rect x="37.0" y="208.0" width="2.05" height="2.05" fill="#ffdc0a"/><rect x="39.0" y="208.0" width="2.05" height="2.05" fill="#ff7a00"/><rect x="41.0" y="208.0" width="2.05" height="2.05" fill="#e42f00"/><rect x="23.0" y="210.0" width="2.05" height="2.05" fill="#ff6200"/><rect x="25.0" y="210.0" width="2.05" height="2.05" fill="#ffe50f"/><rect x="27.0" y="210.0" width="2.05" height="2.05" fill="#fffa1b"/><rect x="29.0" y="210.0" width="2.05" height="2.05" fill="#fffe1e"/><rect x="31.0" y="210.0" width="2.05" height="2.05" fill="#fffe1e"/><rect x="33.0" y="210.0" width="2.05" height="2.05" fill="#fffa1b"/><rect x="35.0" y="210.0" width="2.05" height="2.05" fill="#ffe50f"/><rect x="37.0" y="210.0" width="2.05" height="2.05" fill="#ff6d00"/><rect x="23.0" y="212.0" width="2.05" height="2.05" fill="#c71c00"/><rect x="25.0" y="212.0" width="2.05" height="2.05" fill="#ffbc00"/><rect x="27.0" y="212.0" width="2.05" height="2.05" fill="#ffea12"/><rect x="29.0" y="212.0" width="2.05" height="2.05" fill="#fff518"/><rect x="31.0" y="212.0" width="2.05" height="2.05" fill="#fff518"/><rect x="33.0" y="212.0" width="2.05" height="2.05" fill="#ffea12"/><rect x="35.0" y="212.0" width="2.05" height="2.05" fill="#ffbc00"/><rect x="37.0" y="212.0" width="2.05" height="2.05" fill="#c71c00"/><rect x="25.0" y="214.0" width="2.05" height="2.05" fill="#e42f00"/><rect x="27.0" y="214.0" width="2.05" height="2.05" fill="#ffa300"/><rect x="29.0" y="214.0" width="2.05" height="2.05" fill="#ffd304"/><rect x="31.0" y="214.0" width="2.05" height="2.05" fill="#ffd304"/><rect x="33.0" y="214.0" width="2.05" height="2.05" fill="#ffa300"/><rect x="35.0" y="214.0" width="2.05" height="2.05" fill="#e42f00"/><rect x="27.0" y="216.0" width="2.05" height="2.05" fill="#b00e00"/><rect x="29.0" y="216.0" width="2.05" height="2.05" fill="#de2b00"/><rect x="31.0" y="216.0" width="2.05" height="2.05" fill="#de2b00"/><rect x="33.0" y="216.0" width="2.05" height="2.05" fill="#b00e00"/></g><g filter="url(#bb)"><rect x="154.0" y="198.0" width="2.05" height="2.05" fill="#e32e00"/><rect x="156.0" y="198.0" width="2.05" height="2.05" fill="#ff5300"/><rect x="158.0" y="198.0" width="2.05" height="2.05" fill="#ff3f00"/><rect x="160.0" y="198.0" width="2.05" height="2.05" fill="#bb1500"/><rect x="152.0" y="200.0" width="2.05" height="2.05" fill="#ff5c00"/><rect x="154.0" y="200.0" width="2.05" height="2.05" fill="#ffd204"/><rect x="156.0" y="200.0" width="2.05" height="2.05" fill="#ffeb12"/><rect x="158.0" y="200.0" width="2.05" height="2.05" fill="#ffe10d"/><rect x="160.0" y="200.0" width="2.05" height="2.05" fill="#ffa800"/><rect x="162.0" y="200.0" width="2.05" height="2.05" fill="#cf2100"/><rect x="150.0" y="202.0" width="2.05" height="2.05" fill="#e83100"/><rect x="152.0" y="202.0" width="2.05" height="2.05" fill="#ffd606"/><rect x="154.0" y="202.0" width="2.05" height="2.05" fill="#ffff2e"/><rect x="156.0" y="202.0" width="2.05" height="2.05" fill="#fffff2"/><rect x="158.0" y="202.0" width="2.05" height="2.05" fill="#ffffe0"/><rect x="160.0" y="202.0" width="2.05" height="2.05" fill="#ffeb12"/><rect x="162.0" y="202.0" width="2.05" height="2.05" fill="#ff9300"/><rect x="150.0" y="204.0" width="2.05" height="2.05" fill="#ff8500"/><rect x="152.0" y="204.0" width="2.05" height="2.05" fill="#ffed13"/><rect x="154.0" y="204.0" width="2.05" height="2.05" fill="#ffffd3"/><rect x="156.0" y="204.0" width="2.05" height="2.05" fill="#fffff2"/><rect x="158.0" y="204.0" width="2.05" height="2.05" fill="#fffff2"/><rect x="160.0" y="204.0" width="2.05" height="2.05" fill="#fffd1d"/><rect x="162.0" y="204.0" width="2.05" height="2.05" fill="#ffd706"/><rect x="164.0" y="204.0" width="2.05" height="2.05" fill="#d02200"/><rect x="150.0" y="206.0" width="2.05" height="2.05" fill="#ffb500"/><rect x="152.0" y="206.0" width="2.05" height="2.05" fill="#fff518"/><rect x="154.0" y="206.0" width="2.05" height="2.05" fill="#ffff95"/><rect x="156.0" y="206.0" width="2.05" height="2.05" fill="#fffff2"/><rect x="158.0" y="206.0" width="2.05" height="2.05" fill="#ffffe8"/><rect x="160.0" y="206.0" width="2.05" height="2.05" fill="#fffd1d"/><rect x="162.0" y="206.0" width="2.05" height="2.05" fill="#ffe30e"/><rect x="164.0" y="206.0" width="2.05" height="2.05" fill="#f43800"/><rect x="150.0" y="208.0" width="2.05" height="2.05" fill="#ffb500"/><rect x="152.0" y="208.0" width="2.05" height="2.05" fill="#fff518"/><rect x="154.0" y="208.0" width="2.05" height="2.05" fill="#ffff21"/><rect x="156.0" y="208.0" width="2.05" height="2.05" fill="#ffff5d"/><rect x="158.0" y="208.0" width="2.05" height="2.05" fill="#ffff41"/><rect x="160.0" y="208.0" width="2.05" height="2.05" fill="#fffc1d"/><rect x="162.0" y="208.0" width="2.05" height="2.05" fill="#ffe30e"/><rect x="164.0" y="208.0" width="2.05" height="2.05" fill="#f43800"/><rect x="150.0" y="210.0" width="2.05" height="2.05" fill="#ff8500"/><rect x="152.0" y="210.0" width="2.05" height="2.05" fill="#ffed13"/><rect x="154.0" y="210.0" width="2.05" height="2.05" fill="#fffc1d"/><rect x="156.0" y="210.0" width="2.05" height="2.05" fill="#ffff1f"/><rect x="158.0" y="210.0" width="2.05" height="2.05" fill="#fffe1e"/><rect x="160.0" y="210.0" width="2.05" height="2.05" fill="#fff81a"/><rect x="162.0" y="210.0" width="2.05" height="2.05" fill="#ffd706"/><rect x="164.0" y="210.0" width="2.05" height="2.05" fill="#d02200"/><rect x="150.0" y="212.0" width="2.05" height="2.05" fill="#e83100"/><rect x="152.0" y="212.0" width="2.05" height="2.05" fill="#ffd606"/><rect x="154.0" y="212.0" width="2.05" height="2.05" fill="#fff217"/><rect x="156.0" y="212.0" width="2.05" height="2.05" fill="#fff91b"/><rect x="158.0" y="212.0" width="2.05" height="2.05" fill="#fff71a"/><rect x="160.0" y="212.0" width="2.05" height="2.05" fill="#ffe811"/><rect x="162.0" y="212.0" width="2.05" height="2.05" fill="#ff9300"/><rect x="152.0" y="214.0" width="2.05" height="2.05" fill="#ff5c00"/><rect x="154.0" y="214.0" width="2.05" height="2.05" fill="#ffd103"/><rect x="156.0" y="214.0" width="2.05" height="2.05" fill="#ffe00c"/><rect x="158.0" y="214.0" width="2.05" height="2.05" fill="#ffdb09"/><rect x="160.0" y="214.0" width="2.05" height="2.05" fill="#ffa800"/><rect x="162.0" y="214.0" width="2.05" height="2.05" fill="#cf2100"/><rect x="154.0" y="216.0" width="2.05" height="2.05" fill="#e32e00"/><rect x="156.0" y="216.0" width="2.05" height="2.05" fill="#ff5300"/><rect x="158.0" y="216.0" width="2.05" height="2.05" fill="#ff3f00"/><rect x="160.0" y="216.0" width="2.05" height="2.05" fill="#bb1500"/></g><g filter="url(#bb)"><rect x="232.0" y="218.0" width="2.05" height="2.05" fill="#f43800"/><rect x="234.0" y="218.0" width="2.05" height="2.05" fill="#ffb100"/><rect x="236.0" y="218.0" width="2.05" height="2.05" fill="#ffd002"/><rect x="238.0" y="218.0" width="2.05" height="2.05" fill="#ffb100"/><rect x="240.0" y="218.0" width="2.05" height="2.05" fill="#f43800"/><rect x="230.0" y="220.0" width="2.05" height="2.05" fill="#f73b00"/><rect x="232.0" y="220.0" width="2.05" height="2.05" fill="#ffdd0a"/><rect x="234.0" y="220.0" width="2.05" height="2.05" fill="#fff619"/><rect x="236.0" y="220.0" width="2.05" height="2.05" fill="#fffa1b"/><rect x="238.0" y="220.0" width="2.05" height="2.05" fill="#fff519"/><rect x="240.0" y="220.0" width="2.05" height="2.05" fill="#ffdd0a"/><rect x="242.0" y="220.0" width="2.05" height="2.05" fill="#f73b00"/><rect x="230.0" y="222.0" width="2.05" height="2.05" fill="#ffb200"/><rect x="232.0" y="222.0" width="2.05" height="2.05" fill="#ffffc5"/><rect x="234.0" y="222.0" width="2.05" height="2.05" fill="#fffff2"/><rect x="236.0" y="222.0" width="2.05" height="2.05" fill="#ffff6c"/><rect x="238.0" y="222.0" width="2.05" height="2.05" fill="#fffe1e"/><rect x="240.0" y="222.0" width="2.05" height="2.05" fill="#fff418"/><rect x="242.0" y="222.0" width="2.05" height="2.05" fill="#ffcc00"/><rect x="244.0" y="222.0" width="2.05" height="2.05" fill="#dd2b00"/><rect x="230.0" y="224.0" width="2.05" height="2.05" fill="#ffcd00"/><rect x="232.0" y="224.0" width="2.05" height="2.05" fill="#fffff2"/><rect x="234.0" y="224.0" width="2.05" height="2.05" fill="#fffff2"/><rect x="236.0" y="224.0" width="2.05" height="2.05" fill="#ffffa5"/><rect x="238.0" y="224.0" width="2.05" height="2.05" fill="#ffff23"/><rect x="240.0" y="224.0" width="2.05" height="2.05" fill="#fff81a"/><rect x="242.0" y="224.0" width="2.05" height="2.05" fill="#ffe50f"/><rect x="244.0" y="224.0" width="2.05" height="2.05" fill="#ff8000"/><rect x="246.0" y="224.0" width="2.05" height="2.05" fill="#9b0100"/><rect x="230.0" y="226.0" width="2.05" height="2.05" fill="#ff8000"/><rect x="232.0" y="226.0" width="2.05" height="2.05" fill="#fff619"/><rect x="234.0" y="226.0" width="2.05" height="2.05" fill="#ffff90"/><rect x="236.0" y="226.0" width="2.05" height="2.05" fill="#ffff20"/><rect x="238.0" y="226.0" width="2.05" height="2.05" fill="#fffc1d"/><rect x="240.0" y="226.0" width="2.05" height="2.05" fill="#ffed13"/><rect x="242.0" y="226.0" width="2.05" height="2.05" fill="#ffd203"/><rect x="244.0" y="226.0" width="2.05" height="2.05" fill="#ff5900"/><rect x="230.0" y="228.0" width="2.05" height="2.05" fill="#b31000"/><rect x="232.0" y="228.0" width="2.05" height="2.05" fill="#ffab00"/><rect x="234.0" y="228.0" width="2.05" height="2.05" fill="#ffe40e"/><rect x="236.0" y="228.0" width="2.05" height="2.05" fill="#ffed14"/><rect x="238.0" y="228.0" width="2.05" height="2.05" fill="#ffe40e"/><rect x="240.0" y="228.0" width="2.05" height="2.05" fill="#ffab00"/><rect x="242.0" y="228.0" width="2.05" height="2.05" fill="#b41100"/><rect x="234.0" y="230.0" width="2.05" height="2.05" fill="#e73000"/><rect x="236.0" y="230.0" width="2.05" height="2.05" fill="#ff4a00"/><rect x="238.0" y="230.0" width="2.05" height="2.05" fill="#e73000"/></g><rect x="259.2" y="208.5" width="2.4" height="5" fill="#d02800"/><rect x="255.5" y="234.5" width="4" height="5" fill="#d02800"/><rect x="55" y="310" width="4" height="5.5" fill="#d02800"/><g filter="url(#bb)"><rect x="75.0" y="326.0" width="2.05" height="2.05" fill="#d72600"/><rect x="77.0" y="326.0" width="2.05" height="2.05" fill="#ff4d00"/><rect x="79.0" y="326.0" width="2.05" height="2.05" fill="#ff4d00"/><rect x="81.0" y="326.0" width="2.05" height="2.05" fill="#d72600"/><rect x="73.0" y="328.0" width="2.05" height="2.05" fill="#ff4800"/><rect x="75.0" y="328.0" width="2.05" height="2.05" fill="#ffcc00"/><rect x="77.0" y="328.0" width="2.05" height="2.05" fill="#ffdf0b"/><rect x="79.0" y="328.0" width="2.05" height="2.05" fill="#ffdf0b"/><rect x="81.0" y="328.0" width="2.05" height="2.05" fill="#ffcc00"/><rect x="83.0" y="328.0" width="2.05" height="2.05" fill="#ff4800"/><rect x="71.0" y="330.0" width="2.05" height="2.05" fill="#de2b00"/><rect x="73.0" y="330.0" width="2.05" height="2.05" fill="#ffd002"/><rect x="75.0" y="330.0" width="2.05" height="2.05" fill="#fff015"/><rect x="77.0" y="330.0" width="2.05" height="2.05" fill="#fff91b"/><rect x="79.0" y="330.0" width="2.05" height="2.05" fill="#fff91b"/><rect x="81.0" y="330.0" width="2.05" height="2.05" fill="#fff015"/><rect x="83.0" y="330.0" width="2.05" height="2.05" fill="#ffd002"/><rect x="85.0" y="330.0" width="2.05" height="2.05" fill="#de2b00"/><rect x="71.0" y="332.0" width="2.05" height="2.05" fill="#ff7700"/><rect x="73.0" y="332.0" width="2.05" height="2.05" fill="#ffe911"/><rect x="75.0" y="332.0" width="2.05" height="2.05" fill="#fffb1c"/><rect x="77.0" y="332.0" width="2.05" height="2.05" fill="#fffe1e"/><rect x="79.0" y="332.0" width="2.05" height="2.05" fill="#ffff21"/><rect x="81.0" y="332.0" width="2.05" height="2.05" fill="#ffff27"/><rect x="83.0" y="332.0" width="2.05" height="2.05" fill="#ffed14"/><rect x="85.0" y="332.0" width="2.05" height="2.05" fill="#ff7700"/><rect x="71.0" y="334.0" width="2.05" height="2.05" fill="#ffa800"/><rect x="73.0" y="334.0" width="2.05" height="2.05" fill="#fff216"/><rect x="75.0" y="334.0" width="2.05" height="2.05" fill="#fffe1e"/><rect x="77.0" y="334.0" width="2.05" height="2.05" fill="#ffff28"/><rect x="79.0" y="334.0" width="2.05" height="2.05" fill="#ffff9b"/><rect x="81.0" y="334.0" width="2.05" height="2.05" fill="#fffff2"/><rect x="83.0" y="334.0" width="2.05" height="2.05" fill="#ffffdb"/><rect x="85.0" y="334.0" width="2.05" height="2.05" fill="#ffbd00"/><rect x="71.0" y="336.0" width="2.05" height="2.05" fill="#ffa800"/><rect x="73.0" y="336.0" width="2.05" height="2.05" fill="#fff216"/><rect x="75.0" y="336.0" width="2.05" height="2.05" fill="#fffe1e"/><rect x="77.0" y="336.0" width="2.05" height="2.05" fill="#ffff29"/><rect x="79.0" y="336.0" width="2.05" height="2.05" fill="#ffffda"/><rect x="81.0" y="336.0" width="2.05" height="2.05" fill="#fffff2"/><rect x="83.0" y="336.0" width="2.05" height="2.05" fill="#fffff2"/><rect x="85.0" y="336.0" width="2.05" height="2.05" fill="#ffd405"/><rect x="71.0" y="338.0" width="2.05" height="2.05" fill="#ff7700"/><rect x="73.0" y="338.0" width="2.05" height="2.05" fill="#ffe911"/><rect x="75.0" y="338.0" width="2.05" height="2.05" fill="#fffb1c"/><rect x="77.0" y="338.0" width="2.05" height="2.05" fill="#fffe1e"/><rect x="79.0" y="338.0" width="2.05" height="2.05" fill="#ffff96"/><rect x="81.0" y="338.0" width="2.05" height="2.05" fill="#fffff2"/><rect x="83.0" y="338.0" width="2.05" height="2.05" fill="#ffffd2"/><rect x="85.0" y="338.0" width="2.05" height="2.05" fill="#ff9000"/><rect x="71.0" y="340.0" width="2.05" height="2.05" fill="#de2b00"/><rect x="73.0" y="340.0" width="2.05" height="2.05" fill="#ffd002"/><rect x="75.0" y="340.0" width="2.05" height="2.05" fill="#fff015"/><rect x="77.0" y="340.0" width="2.05" height="2.05" fill="#fff91b"/><rect x="79.0" y="340.0" width="2.05" height="2.05" fill="#fff91b"/><rect x="81.0" y="340.0" width="2.05" height="2.05" fill="#fff619"/><rect x="83.0" y="340.0" width="2.05" height="2.05" fill="#ffd807"/><rect x="85.0" y="340.0" width="2.05" height="2.05" fill="#de2b00"/><rect x="73.0" y="342.0" width="2.05" height="2.05" fill="#ff4800"/><rect x="75.0" y="342.0" width="2.05" height="2.05" fill="#ffcc00"/><rect x="77.0" y="342.0" width="2.05" height="2.05" fill="#ffdf0b"/><rect x="79.0" y="342.0" width="2.05" height="2.05" fill="#ffdf0b"/><rect x="81.0" y="342.0" width="2.05" height="2.05" fill="#ffcc00"/><rect x="83.0" y="342.0" width="2.05" height="2.05" fill="#ff4800"/><rect x="75.0" y="344.0" width="2.05" height="2.05" fill="#d72600"/><rect x="77.0" y="344.0" width="2.05" height="2.05" fill="#ff4d00"/><rect x="79.0" y="344.0" width="2.05" height="2.05" fill="#ff4d00"/><rect x="81.0" y="344.0" width="2.05" height="2.05" fill="#d72600"/></g><g filter="url(#bb)"><rect x="158.0" y="323.0" width="2.05" height="2.05" fill="#a60800"/><rect x="160.0" y="323.0" width="2.05" height="2.05" fill="#ff8a00"/><rect x="162.0" y="323.0" width="2.05" height="2.05" fill="#ff6a00"/><rect x="154.0" y="325.0" width="2.05" height="2.05" fill="#e83100"/><rect x="156.0" y="325.0" width="2.05" height="2.05" fill="#ff6f00"/><rect x="158.0" y="325.0" width="2.05" height="2.05" fill="#ff7f00"/><rect x="160.0" y="325.0" width="2.05" height="2.05" fill="#ffa500"/><rect x="162.0" y="325.0" width="2.05" height="2.05" fill="#ff6b00"/><rect x="142.0" y="327.0" width="2.05" height="2.05" fill="#ad0c00"/><rect x="144.0" y="327.0" width="2.05" height="2.05" fill="#f23700"/><rect x="146.0" y="327.0" width="2.05" height="2.05" fill="#ff6100"/><rect x="148.0" y="327.0" width="2.05" height="2.05" fill="#ff6100"/><rect x="150.0" y="327.0" width="2.05" height="2.05" fill="#fc3e00"/><rect x="152.0" y="327.0" width="2.05" height="2.05" fill="#ffac00"/><rect x="154.0" y="327.0" width="2.05" height="2.05" fill="#ffe60f"/><rect x="156.0" y="327.0" width="2.05" height="2.05" fill="#ffe911"/><rect x="158.0" y="327.0" width="2.05" height="2.05" fill="#ffe10c"/><rect x="160.0" y="327.0" width="2.05" height="2.05" fill="#ff7a00"/><rect x="140.0" y="329.0" width="2.05" height="2.05" fill="#d82700"/><rect x="142.0" y="329.0" width="2.05" height="2.05" fill="#ffa000"/><rect x="144.0" y="329.0" width="2.05" height="2.05" fill="#ffdb09"/><rect x="146.0" y="329.0" width="2.05" height="2.05" fill="#ffe610"/><rect x="148.0" y="329.0" width="2.05" height="2.05" fill="#ffe610"/><rect x="150.0" y="329.0" width="2.05" height="2.05" fill="#ffdf0b"/><rect x="152.0" y="329.0" width="2.05" height="2.05" fill="#ffef15"/><rect x="154.0" y="329.0" width="2.05" height="2.05" fill="#fff619"/><rect x="156.0" y="329.0" width="2.05" height="2.05" fill="#ffef15"/><rect x="158.0" y="329.0" width="2.05" height="2.05" fill="#ffea12"/><rect x="160.0" y="329.0" width="2.05" height="2.05" fill="#ffae00"/><rect x="138.0" y="331.0" width="2.05" height="2.05" fill="#b81300"/><rect x="140.0" y="331.0" width="2.05" height="2.05" fill="#ffa300"/><rect x="142.0" y="331.0" width="2.05" height="2.05" fill="#ffe710"/><rect x="144.0" y="331.0" width="2.05" height="2.05" fill="#fff71a"/><rect x="146.0" y="331.0" width="2.05" height="2.05" fill="#fffd1d"/><rect x="148.0" y="331.0" width="2.05" height="2.05" fill="#fffc1c"/><rect x="150.0" y="331.0" width="2.05" height="2.05" fill="#fff81a"/><rect x="152.0" y="331.0" width="2.05" height="2.05" fill="#fff81a"/><rect x="154.0" y="331.0" width="2.05" height="2.05" fill="#fffb1c"/><rect x="156.0" y="331.0" width="2.05" height="2.05" fill="#fff317"/><rect x="158.0" y="331.0" width="2.05" height="2.05" fill="#ffe40e"/><rect x="160.0" y="331.0" width="2.05" height="2.05" fill="#ff5100"/><rect x="138.0" y="333.0" width="2.05" height="2.05" fill="#f83b00"/><rect x="140.0" y="333.0" width="2.05" height="2.05" fill="#ffd908"/><rect x="142.0" y="333.0" width="2.05" height="2.05" fill="#fff619"/><rect x="144.0" y="333.0" width="2.05" height="2.05" fill="#ffffb0"/><rect x="146.0" y="333.0" width="2.05" height="2.05" fill="#fffff2"/><rect x="148.0" y="333.0" width="2.05" height="2.05" fill="#ffffb6"/><rect x="150.0" y="333.0" width="2.05" height="2.05" fill="#fffe1e"/><rect x="152.0" y="333.0" width="2.05" height="2.05" fill="#fff81a"/><rect x="154.0" y="333.0" width="2.05" height="2.05" fill="#ffed14"/><rect x="156.0" y="333.0" width="2.05" height="2.05" fill="#ffd707"/><rect x="158.0" y="333.0" width="2.05" height="2.05" fill="#ff4d00"/><rect x="138.0" y="335.0" width="2.05" height="2.05" fill="#ff5500"/><rect x="140.0" y="335.0" width="2.05" height="2.05" fill="#ffe10c"/><rect x="142.0" y="335.0" width="2.05" height="2.05" fill="#fffa1c"/><rect x="144.0" y="335.0" width="2.05" height="2.05" fill="#fffff2"/><rect x="146.0" y="335.0" width="2.05" height="2.05" fill="#fffff2"/><rect x="148.0" y="335.0" width="2.05" height="2.05" fill="#fffff2"/><rect x="150.0" y="335.0" width="2.05" height="2.05" fill="#ffff2f"/><rect x="152.0" y="335.0" width="2.05" height="2.05" fill="#fff91b"/><rect x="154.0" y="335.0" width="2.05" height="2.05" fill="#ffe10c"/><rect x="156.0" y="335.0" width="2.05" height="2.05" fill="#ff5c00"/><rect x="138.0" y="337.0" width="2.05" height="2.05" fill="#f83b00"/><rect x="140.0" y="337.0" width="2.05" height="2.05" fill="#ffd908"/><rect x="142.0" y="337.0" width="2.05" height="2.05" fill="#fff619"/><rect x="144.0" y="337.0" width="2.05" height="2.05" fill="#ffffb0"/><rect x="146.0" y="337.0" width="2.05" height="2.05" fill="#fffff2"/><rect x="148.0" y="337.0" width="2.05" height="2.05" fill="#ffffb6"/><rect x="150.0" y="337.0" width="2.05" height="2.05" fill="#fffe1e"/><rect x="152.0" y="337.0" width="2.05" height="2.05" fill="#fff619"/><rect x="154.0" y="337.0" width="2.05" height="2.05" fill="#ffd908"/><rect x="156.0" y="337.0" width="2.05" height="2.05" fill="#f83b00"/><rect x="138.0" y="339.0" width="2.05" height="2.05" fill="#b81300"/><rect x="140.0" y="339.0" width="2.05" height="2.05" fill="#ffa300"/><rect x="142.0" y="339.0" width="2.05" height="2.05" fill="#ffe710"/><rect x="144.0" y="339.0" width="2.05" height="2.05" fill="#fff71a"/><rect x="146.0" y="339.0" width="2.05" height="2.05" fill="#fffd1d"/><rect x="148.0" y="339.0" width="2.05" height="2.05" fill="#fffc1c"/><rect x="150.0" y="339.0" width="2.05" height="2.05" fill="#fff71a"/><rect x="152.0" y="339.0" width="2.05" height="2.05" fill="#ffe710"/><rect x="154.0" y="339.0" width="2.05" height="2.05" fill="#ffa300"/><rect x="156.0" y="339.0" width="2.05" height="2.05" fill="#b81300"/><rect x="140.0" y="341.0" width="2.05" height="2.05" fill="#d82700"/><rect x="142.0" y="341.0" width="2.05" height="2.05" fill="#ffa000"/><rect x="144.0" y="341.0" width="2.05" height="2.05" fill="#ffdb09"/><rect x="146.0" y="341.0" width="2.05" height="2.05" fill="#ffe610"/><rect x="148.0" y="341.0" width="2.05" height="2.05" fill="#ffe610"/><rect x="150.0" y="341.0" width="2.05" height="2.05" fill="#ffdb09"/><rect x="152.0" y="341.0" width="2.05" height="2.05" fill="#ffa000"/><rect x="154.0" y="341.0" width="2.05" height="2.05" fill="#d82700"/><rect x="142.0" y="343.0" width="2.05" height="2.05" fill="#ad0c00"/><rect x="144.0" y="343.0" width="2.05" height="2.05" fill="#f23700"/><rect x="146.0" y="343.0" width="2.05" height="2.05" fill="#ff6100"/><rect x="148.0" y="343.0" width="2.05" height="2.05" fill="#ff6100"/><rect x="150.0" y="343.0" width="2.05" height="2.05" fill="#f23700"/><rect x="152.0" y="343.0" width="2.05" height="2.05" fill="#ad0c00"/></g><g filter="url(#bb)"><rect x="279.0" y="342.0" width="2.05" height="2.05" fill="#d82700"/><rect x="281.0" y="342.0" width="2.05" height="2.05" fill="#ff6c00"/><rect x="283.0" y="342.0" width="2.05" height="2.05" fill="#ff9b00"/><rect x="285.0" y="342.0" width="2.05" height="2.05" fill="#ff9b00"/><rect x="287.0" y="342.0" width="2.05" height="2.05" fill="#ff6c00"/><rect x="289.0" y="342.0" width="2.05" height="2.05" fill="#d82700"/><rect x="277.0" y="344.0" width="2.05" height="2.05" fill="#fe3f00"/><rect x="279.0" y="344.0" width="2.05" height="2.05" fill="#ffcc00"/><rect x="281.0" y="344.0" width="2.05" height="2.05" fill="#ffe30e"/><rect x="283.0" y="344.0" width="2.05" height="2.05" fill="#ffec13"/><rect x="285.0" y="344.0" width="2.05" height="2.05" fill="#ffec13"/><rect x="287.0" y="344.0" width="2.05" height="2.05" fill="#ffe30e"/><rect x="289.0" y="344.0" width="2.05" height="2.05" fill="#ffcc00"/><rect x="291.0" y="344.0" width="2.05" height="2.05" fill="#fe3f00"/><rect x="275.0" y="346.0" width="2.05" height="2.05" fill="#d12300"/><rect x="277.0" y="346.0" width="2.05" height="2.05" fill="#ffc000"/><rect x="279.0" y="346.0" width="2.05" height="2.05" fill="#ffea12"/><rect x="281.0" y="346.0" width="2.05" height="2.05" fill="#fff519"/><rect x="283.0" y="346.0" width="2.05" height="2.05" fill="#fff81a"/><rect x="285.0" y="346.0" width="2.05" height="2.05" fill="#fff81a"/><rect x="287.0" y="346.0" width="2.05" height="2.05" fill="#fff519"/><rect x="289.0" y="346.0" width="2.05" height="2.05" fill="#ffea12"/><rect x="291.0" y="346.0" width="2.05" height="2.05" fill="#ffc000"/><rect x="293.0" y="346.0" width="2.05" height="2.05" fill="#d12300"/><rect x="275.0" y="348.0" width="2.05" height="2.05" fill="#ff4300"/><rect x="277.0" y="348.0" width="2.05" height="2.05" fill="#ffd908"/><rect x="279.0" y="348.0" width="2.05" height="2.05" fill="#fff317"/><rect x="281.0" y="348.0" width="2.05" height="2.05" fill="#fff81a"/><rect x="283.0" y="348.0" width="2.05" height="2.05" fill="#fff91b"/><rect x="285.0" y="348.0" width="2.05" height="2.05" fill="#fff91b"/><rect x="287.0" y="348.0" width="2.05" height="2.05" fill="#fff91b"/><rect x="289.0" y="348.0" width="2.05" height="2.05" fill="#fff418"/><rect x="291.0" y="348.0" width="2.05" height="2.05" fill="#ffdd0a"/><rect x="293.0" y="348.0" width="2.05" height="2.05" fill="#ff4900"/><rect x="275.0" y="350.0" width="2.05" height="2.05" fill="#ff4300"/><rect x="277.0" y="350.0" width="2.05" height="2.05" fill="#ffd908"/><rect x="279.0" y="350.0" width="2.05" height="2.05" fill="#fff317"/><rect x="281.0" y="350.0" width="2.05" height="2.05" fill="#fff81a"/><rect x="283.0" y="350.0" width="2.05" height="2.05" fill="#fff91b"/><rect x="285.0" y="350.0" width="2.05" height="2.05" fill="#fffa1b"/><rect x="287.0" y="350.0" width="2.05" height="2.05" fill="#fffd1d"/><rect x="289.0" y="350.0" width="2.05" height="2.05" fill="#fffe1e"/><rect x="291.0" y="350.0" width="2.05" height="2.05" fill="#ffef15"/><rect x="293.0" y="350.0" width="2.05" height="2.05" fill="#ff9600"/><rect x="275.0" y="352.0" width="2.05" height="2.05" fill="#d12300"/><rect x="277.0" y="352.0" width="2.05" height="2.05" fill="#ffc000"/><rect x="279.0" y="352.0" width="2.05" height="2.05" fill="#ffea12"/><rect x="281.0" y="352.0" width="2.05" height="2.05" fill="#fff519"/><rect x="283.0" y="352.0" width="2.05" height="2.05" fill="#fff81a"/><rect x="285.0" y="352.0" width="2.05" height="2.05" fill="#fffc1d"/><rect x="287.0" y="352.0" width="2.05" height="2.05" fill="#ffffca"/><rect x="289.0" y="352.0" width="2.05" height="2.05" fill="#fffff2"/><rect x="291.0" y="352.0" width="2.05" height="2.05" fill="#ffffb0"/><rect x="293.0" y="352.0" width="2.05" height="2.05" fill="#ffdd0a"/><rect x="295.0" y="352.0" width="2.05" height="2.05" fill="#ba1400"/><rect x="277.0" y="354.0" width="2.05" height="2.05" fill="#fe3f00"/><rect x="279.0" y="354.0" width="2.05" height="2.05" fill="#ffcc00"/><rect x="281.0" y="354.0" width="2.05" height="2.05" fill="#ffe30e"/><rect x="283.0" y="354.0" width="2.05" height="2.05" fill="#ffee14"/><rect x="285.0" y="354.0" width="2.05" height="2.05" fill="#fffc1d"/><rect x="287.0" y="354.0" width="2.05" height="2.05" fill="#fffff2"/><rect x="289.0" y="354.0" width="2.05" height="2.05" fill="#fffff2"/><rect x="291.0" y="354.0" width="2.05" height="2.05" fill="#fffff2"/><rect x="293.0" y="354.0" width="2.05" height="2.05" fill="#fff518"/><rect x="295.0" y="354.0" width="2.05" height="2.05" fill="#ff6000"/><rect x="279.0" y="356.0" width="2.05" height="2.05" fill="#d82700"/><rect x="281.0" y="356.0" width="2.05" height="2.05" fill="#ff6c00"/><rect x="283.0" y="356.0" width="2.05" height="2.05" fill="#ffb700"/><rect x="285.0" y="356.0" width="2.05" height="2.05" fill="#ffee14"/><rect x="287.0" y="356.0" width="2.05" height="2.05" fill="#ffffc8"/><rect x="289.0" y="356.0" width="2.05" height="2.05" fill="#fffff2"/><rect x="291.0" y="356.0" width="2.05" height="2.05" fill="#ffffc2"/><rect x="293.0" y="356.0" width="2.05" height="2.05" fill="#fffa1b"/><rect x="295.0" y="356.0" width="2.05" height="2.05" fill="#ffad00"/><rect x="283.0" y="358.0" width="2.05" height="2.05" fill="#b51100"/><rect x="285.0" y="358.0" width="2.05" height="2.05" fill="#ffd103"/><rect x="287.0" y="358.0" width="2.05" height="2.05" fill="#fffc1d"/><rect x="289.0" y="358.0" width="2.05" height="2.05" fill="#ffff46"/><rect x="291.0" y="358.0" width="2.05" height="2.05" fill="#ffff2e"/><rect x="293.0" y="358.0" width="2.05" height="2.05" fill="#fff91b"/><rect x="295.0" y="358.0" width="2.05" height="2.05" fill="#ffad00"/><rect x="285.0" y="360.0" width="2.05" height="2.05" fill="#ff5c00"/><rect x="287.0" y="360.0" width="2.05" height="2.05" fill="#ffee14"/><rect x="289.0" y="360.0" width="2.05" height="2.05" fill="#fffd1d"/><rect x="291.0" y="360.0" width="2.05" height="2.05" fill="#fffd1d"/><rect x="293.0" y="360.0" width="2.05" height="2.05" fill="#ffee14"/><rect x="295.0" y="360.0" width="2.05" height="2.05" fill="#ff5700"/><rect x="285.0" y="362.0" width="2.05" height="2.05" fill="#9a0000"/><rect x="287.0" y="362.0" width="2.05" height="2.05" fill="#ffaf00"/><rect x="289.0" y="362.0" width="2.05" height="2.05" fill="#ffe50f"/><rect x="291.0" y="362.0" width="2.05" height="2.05" fill="#ffe50f"/><rect x="293.0" y="362.0" width="2.05" height="2.05" fill="#ffaf00"/><rect x="295.0" y="362.0" width="2.05" height="2.05" fill="#9a0000"/><rect x="287.0" y="364.0" width="2.05" height="2.05" fill="#9b0100"/><rect x="289.0" y="364.0" width="2.05" height="2.05" fill="#f33800"/><rect x="291.0" y="364.0" width="2.05" height="2.05" fill="#f33800"/><rect x="293.0" y="364.0" width="2.05" height="2.05" fill="#9b0100"/></g><line x1="53" y1="46" x2="53" y2="154" stroke="#d8d8d8" stroke-width="1.3"/><line x1="125" y1="46" x2="125" y2="154" stroke="#d8d8d8" stroke-width="1.3"/><line x1="12" y1="112" x2="212" y2="112" stroke="#d8d8d8" stroke-width="1.3"/><line x1="258.7" y1="49" x2="258.7" y2="151" stroke="#d8d8d8" stroke-width="1.3"/><line x1="217" y1="136.4" x2="309.5" y2="136.4" stroke="#d8d8d8" stroke-width="1.3"/><line x1="29.5" y1="167" x2="29.5" y2="270.6" stroke="#d8d8d8" stroke-width="1.3"/><line x1="157.4" y1="167" x2="157.4" y2="275" stroke="#d8d8d8" stroke-width="1.3"/><line x1="11" y1="204.8" x2="211" y2="204.8" stroke="#d8d8d8" stroke-width="1.3"/><line x1="234.5" y1="170" x2="234.5" y2="267" stroke="#d8d8d8" stroke-width="1.3"/><line x1="216.6" y1="224.2" x2="308.6" y2="224.2" stroke="#d8d8d8" stroke-width="1.3"/><line x1="84" y1="286" x2="84" y2="396" stroke="#d8d8d8" stroke-width="1.3"/><line x1="146.8" y1="286" x2="146.8" y2="396" stroke="#d8d8d8" stroke-width="1.3"/><line x1="11" y1="336" x2="213.5" y2="336" stroke="#d8d8d8" stroke-width="1.3"/><line x1="291.3" y1="289" x2="291.3" y2="392.7" stroke="#d8d8d8" stroke-width="1.3"/><line x1="218.4" y1="356" x2="312" y2="356" stroke="#d8d8d8" stroke-width="1.3"/><text x="20.2" y="54" font-size="11" fill="#f4f4f4" text-anchor="start">L</text><text x="88" y="54" font-size="11" fill="#f4f4f4" text-anchor="start">R</text><text x="226.5" y="58" font-size="11" fill="#f4f4f4" text-anchor="start">L</text><text x="292.5" y="58" font-size="11" fill="#f4f4f4" text-anchor="start">R</text><text x="20.2" y="175" font-size="11" fill="#f4f4f4" text-anchor="start">L</text><text x="87.8" y="175" font-size="11" fill="#f4f4f4" text-anchor="start">R</text><text x="225.5" y="179" font-size="11" fill="#f4f4f4" text-anchor="start">L</text><text x="292" y="179" font-size="11" fill="#f4f4f4" text-anchor="start">R</text><text x="20.2" y="295" font-size="11" fill="#f4f4f4" text-anchor="start">L</text><text x="88" y="295" font-size="11" fill="#f4f4f4" text-anchor="start">R</text><text x="228" y="299" font-size="11" fill="#f4f4f4" text-anchor="start">L</text><text x="295.5" y="299" font-size="11" fill="#f4f4f4" text-anchor="start">R</text><rect x="10.5" y="148.5" width="33.0" height="11" fill="#000"/><text x="11.5" y="158" font-size="12" fill="#f4f4f4" text-anchor="start">y=-85</text><rect x="102.5" y="148.5" width="26.8" height="11" fill="#000"/><text x="103.5" y="158" font-size="12" fill="#f4f4f4" text-anchor="start">x=-4</text><rect x="215.5" y="145.5" width="33.0" height="11" fill="#000"/><text x="216.5" y="155" font-size="12" fill="#f4f4f4" text-anchor="start">z=-25</text><rect x="10.5" y="269.5" width="33.0" height="11" fill="#000"/><text x="11.5" y="279" font-size="12" fill="#f4f4f4" text-anchor="start">y=-15</text><rect x="102.5" y="269.5" width="33.0" height="11" fill="#000"/><text x="103.5" y="279" font-size="12" fill="#f4f4f4" text-anchor="start">x=-54</text><rect x="215.5" y="266.0" width="26.8" height="11" fill="#000"/><text x="216.5" y="275.5" font-size="12" fill="#f4f4f4" text-anchor="start">z=34</text><rect x="10.5" y="390.5" width="33.0" height="11" fill="#000"/><text x="11.5" y="400" font-size="12" fill="#f4f4f4" text-anchor="start">y=-40</text><rect x="102.5" y="390.5" width="26.8" height="11" fill="#000"/><text x="103.5" y="400" font-size="12" fill="#f4f4f4" text-anchor="start">x=59</text><rect x="217" y="387.0" width="20.6" height="11" fill="#000"/><text x="218" y="396.5" font-size="12" fill="#f4f4f4" text-anchor="start">z=9</text></g>
<g id="panelB"><path d="M486,163.7 L486.0,163.7  C486.2,164.4 486.6,166.3 487.0,168.0 C487.4,169.7 488.1,171.7 488.7,173.7 C489.3,175.7 489.8,177.9 490.4,180.0 C491.0,182.1 491.4,183.6 492.5,186.2 C493.6,188.8 495.0,192.4 496.8,195.5 C498.6,198.6 500.3,201.8 503.1,204.9 C505.9,208.0 510.4,211.6 513.7,214.3 C517.0,217.0 520.0,218.7 523.0,221.0 C526.0,223.3 529.4,225.7 531.5,228.0 C533.6,230.3 536.2,232.7 535.6,235.0 C535.0,237.3 531.1,239.8 528.0,242.0 C524.9,244.2 520.5,246.0 517.0,248.0 C513.5,250.0 509.8,252.2 507.0,254.0 C504.2,255.8 502.5,257.1 500.5,258.6 C498.5,260.1 496.3,261.7 495.0,263.0 C493.7,264.3 493.0,265.9 492.6,266.5 L486,266.5 Z" fill="#a3d9c3"/><path d="M617.8,178 L617.8,178.0  C618.7,179.2 620.8,182.4 623.1,185.0 C625.4,187.6 628.6,190.9 631.8,193.8 C635.0,196.7 638.5,199.7 642.3,202.6 C646.1,205.5 650.9,208.4 654.6,211.3 C658.2,214.2 662.1,217.5 664.2,220.0 C666.3,222.5 667.2,223.9 667.2,226.2 C667.2,228.5 666.1,231.2 664.2,234.0 C662.2,236.8 658.9,240.0 655.5,242.9 C652.1,245.8 647.7,248.7 644.1,251.6 C640.4,254.5 637.0,257.5 633.6,260.4 C630.2,263.3 626.4,266.5 623.9,269.1 C621.4,271.7 619.2,274.7 618.3,275.8 L617.8,275.8 Z" fill="#e2b49c"/><line x1="469.4" y1="183" x2="610.5" y2="197.7" stroke="#9a9a9a" stroke-width="0.8" opacity="0.35"/><line x1="466.4" y1="200.8" x2="591.5" y2="196.4" stroke="#9a9a9a" stroke-width="0.8" opacity="0.35"/><line x1="476.4" y1="207.8" x2="600" y2="209.2" stroke="#9a9a9a" stroke-width="0.8" opacity="0.35"/><line x1="476.4" y1="213" x2="609.5" y2="211.3" stroke="#9a9a9a" stroke-width="0.8" opacity="0.35"/><line x1="464.5" y1="218.7" x2="603" y2="209.5" stroke="#9a9a9a" stroke-width="0.8" opacity="0.35"/><line x1="469.4" y1="221.8" x2="614" y2="211.3" stroke="#9a9a9a" stroke-width="0.8" opacity="0.35"/><line x1="474" y1="222" x2="601.5" y2="220" stroke="#9a9a9a" stroke-width="0.8" opacity="0.35"/><line x1="464" y1="224.5" x2="604.5" y2="216.6" stroke="#9a9a9a" stroke-width="0.8" opacity="0.35"/><line x1="464.9" y1="227" x2="613.5" y2="221" stroke="#9a9a9a" stroke-width="0.8" opacity="0.35"/><line x1="484" y1="227" x2="598" y2="224" stroke="#9a9a9a" stroke-width="0.8" opacity="0.35"/><line x1="484" y1="229.7" x2="604" y2="222.7" stroke="#9a9a9a" stroke-width="0.8" opacity="0.35"/><line x1="468" y1="230" x2="596.5" y2="228" stroke="#9a9a9a" stroke-width="0.8" opacity="0.35"/><line x1="461" y1="231" x2="601.5" y2="229.7" stroke="#9a9a9a" stroke-width="0.8" opacity="0.35"/><line x1="480" y1="233.2" x2="615" y2="228.8" stroke="#9a9a9a" stroke-width="0.8" opacity="0.35"/><line x1="466" y1="235.3" x2="607" y2="231.5" stroke="#9a9a9a" stroke-width="0.8" opacity="0.35"/><line x1="462" y1="235.8" x2="606" y2="233.2" stroke="#9a9a9a" stroke-width="0.8" opacity="0.35"/><line x1="472" y1="237" x2="612" y2="232.3" stroke="#9a9a9a" stroke-width="0.8" opacity="0.35"/><line x1="459.5" y1="239" x2="592" y2="235.3" stroke="#9a9a9a" stroke-width="0.8" opacity="0.35"/><line x1="478" y1="239.3" x2="605" y2="240" stroke="#9a9a9a" stroke-width="0.8" opacity="0.35"/><line x1="465" y1="241" x2="612" y2="236.7" stroke="#9a9a9a" stroke-width="0.8" opacity="0.35"/><line x1="482" y1="243" x2="607.5" y2="246.7" stroke="#9a9a9a" stroke-width="0.8" opacity="0.35"/><line x1="471" y1="243.7" x2="594.5" y2="248.1" stroke="#9a9a9a" stroke-width="0.8" opacity="0.35"/><line x1="478" y1="245.5" x2="608.5" y2="247.2" stroke="#9a9a9a" stroke-width="0.8" opacity="0.35"/><line x1="475" y1="246" x2="602" y2="250.2" stroke="#9a9a9a" stroke-width="0.8" opacity="0.35"/><line x1="483.8" y1="247.2" x2="610.5" y2="256.3" stroke="#9a9a9a" stroke-width="0.8" opacity="0.35"/><circle cx="469.4" cy="183" r="3.4" fill="#66c2a5" fill-opacity="0.55"/><circle cx="466.4" cy="200.8" r="3.4" fill="#66c2a5" fill-opacity="0.55"/><circle cx="476.4" cy="207.8" r="3.4" fill="#66c2a5" fill-opacity="0.55"/><circle cx="476.4" cy="213" r="3.4" fill="#66c2a5" fill-opacity="0.55"/><circle cx="464.5" cy="218.7" r="3.4" fill="#66c2a5" fill-opacity="0.55"/><circle cx="469.4" cy="221.8" r="3.4" fill="#66c2a5" fill-opacity="0.55"/><circle cx="464" cy="224.5" r="3.4" fill="#66c2a5" fill-opacity="0.55"/><circle cx="464.9" cy="227" r="3.4" fill="#66c2a5" fill-opacity="0.55"/><circle cx="462" cy="235.8" r="3.4" fill="#66c2a5" fill-opacity="0.55"/><circle cx="466" cy="235.3" r="3.4" fill="#66c2a5" fill-opacity="0.55"/><circle cx="459.5" cy="239" r="3.4" fill="#66c2a5" fill-opacity="0.55"/><circle cx="465" cy="241" r="3.4" fill="#66c2a5" fill-opacity="0.55"/><circle cx="471" cy="243.7" r="3.4" fill="#66c2a5" fill-opacity="0.55"/><circle cx="475" cy="246" r="3.4" fill="#66c2a5" fill-opacity="0.55"/><circle cx="478" cy="245.5" r="3.4" fill="#66c2a5" fill-opacity="0.55"/><circle cx="483.8" cy="247.2" r="3.4" fill="#66c2a5" fill-opacity="0.55"/><circle cx="480" cy="233.2" r="3.4" fill="#66c2a5" fill-opacity="0.55"/><circle cx="484" cy="229.7" r="3.4" fill="#66c2a5" fill-opacity="0.55"/><circle cx="484" cy="227" r="3.4" fill="#66c2a5" fill-opacity="0.55"/><circle cx="478" cy="239.3" r="3.4" fill="#66c2a5" fill-opacity="0.55"/><circle cx="468" cy="230" r="3.4" fill="#66c2a5" fill-opacity="0.55"/><circle cx="472" cy="237" r="3.4" fill="#66c2a5" fill-opacity="0.55"/><circle cx="461" cy="231" r="3.4" fill="#66c2a5" fill-opacity="0.55"/><circle cx="474" cy="222" r="3.4" fill="#66c2a5" fill-opacity="0.55"/><circle cx="482" cy="243" r="3.4" fill="#66c2a5" fill-opacity="0.55"/><circle cx="591.5" cy="196.4" r="3.4" fill="#d97b4f" fill-opacity="0.58"/><circle cx="610.5" cy="197.7" r="3.4" fill="#d97b4f" fill-opacity="0.58"/><circle cx="600" cy="209.2" r="3.4" fill="#d97b4f" fill-opacity="0.58"/><circle cx="603" cy="209.5" r="3.4" fill="#d97b4f" fill-opacity="0.58"/><circle cx="609.5" cy="211.3" r="3.4" fill="#d97b4f" fill-opacity="0.58"/><circle cx="614" cy="211.3" r="3.4" fill="#d97b4f" fill-opacity="0.58"/><circle cx="604.5" cy="216.6" r="3.4" fill="#d97b4f" fill-opacity="0.58"/><circle cx="601.5" cy="220" r="3.4" fill="#d97b4f" fill-opacity="0.58"/><circle cx="604" cy="222.7" r="3.4" fill="#d97b4f" fill-opacity="0.58"/><circle cx="613.5" cy="221" r="3.4" fill="#d97b4f" fill-opacity="0.58"/><circle cx="596.5" cy="228" r="3.4" fill="#d97b4f" fill-opacity="0.58"/><circle cx="601.5" cy="229.7" r="3.4" fill="#d97b4f" fill-opacity="0.58"/><circle cx="606" cy="233.2" r="3.4" fill="#d97b4f" fill-opacity="0.58"/><circle cx="612" cy="232.3" r="3.4" fill="#d97b4f" fill-opacity="0.58"/><circle cx="592" cy="235.3" r="3.4" fill="#d97b4f" fill-opacity="0.58"/><circle cx="612" cy="236.7" r="3.4" fill="#d97b4f" fill-opacity="0.58"/><circle cx="594.5" cy="248.1" r="3.4" fill="#d97b4f" fill-opacity="0.58"/><circle cx="602" cy="250.2" r="3.4" fill="#d97b4f" fill-opacity="0.58"/><circle cx="607.5" cy="246.7" r="3.4" fill="#d97b4f" fill-opacity="0.58"/><circle cx="608.5" cy="247.2" r="3.4" fill="#d97b4f" fill-opacity="0.58"/><circle cx="610.5" cy="256.3" r="3.4" fill="#d97b4f" fill-opacity="0.58"/><circle cx="607" cy="231.5" r="3.4" fill="#d97b4f" fill-opacity="0.58"/><circle cx="615" cy="228.8" r="3.4" fill="#d97b4f" fill-opacity="0.58"/><circle cx="598" cy="224" r="3.4" fill="#d97b4f" fill-opacity="0.58"/><circle cx="605" cy="240" r="3.4" fill="#d97b4f" fill-opacity="0.58"/><line x1="486" y1="201.2" x2="486" y2="222.4" stroke="#555" stroke-width="1"/><line x1="486" y1="240.7" x2="486" y2="247.2" stroke="#555" stroke-width="1"/><rect x="479.6" y="222.4" width="13" height="18.3" fill="#66c2a5" fill-opacity="0.35" stroke="#333" stroke-width="1"/><line x1="479.6" y1="235.3" x2="492.6" y2="235.3" stroke="#222" stroke-width="1.6"/><line x1="617.6" y1="197.3" x2="617.6" y2="217.1" stroke="#555" stroke-width="1"/><line x1="617.6" y1="235.5" x2="617.6" y2="256.5" stroke="#555" stroke-width="1"/><rect x="611.2" y="217.1" width="13.3" height="18.4" fill="#d97b4f" fill-opacity="0.35" stroke="#333" stroke-width="1"/><line x1="611.2" y1="228" x2="624.5" y2="228" stroke="#222" stroke-width="1.6"/><path d="M393.4,145.5 V316.8 H684" fill="none" stroke="#333" stroke-width="1.1"/><line x1="391" y1="179.4" x2="393.4" y2="179.4" stroke="#333" stroke-width="1"/><text x="389.6" y="182.6" font-size="8.8" font-weight="bold" fill="#4d4d4d" text-anchor="end">0.75</text><line x1="391" y1="222.8" x2="393.4" y2="222.8" stroke="#333" stroke-width="1"/><text x="389.6" y="226.0" font-size="8.8" font-weight="bold" fill="#4d4d4d" text-anchor="end">0.50</text><line x1="391" y1="266.2" x2="393.4" y2="266.2" stroke="#333" stroke-width="1"/><text x="389.6" y="269.4" font-size="8.8" font-weight="bold" fill="#4d4d4d" text-anchor="end">0.25</text><line x1="391" y1="309.6" x2="393.4" y2="309.6" stroke="#333" stroke-width="1"/><text x="389.6" y="312.8" font-size="8.8" font-weight="bold" fill="#4d4d4d" text-anchor="end">0.00</text><line x1="472.2" y1="316.8" x2="472.2" y2="319.2" stroke="#333" stroke-width="1"/><text x="472.2" y="327.2" font-size="8.8" font-weight="bold" fill="#4d4d4d" text-anchor="middle">0 degree</text><line x1="604.6" y1="316.8" x2="604.6" y2="319.2" stroke="#333" stroke-width="1"/><text x="604.6" y="327.2" font-size="8.8" font-weight="bold" fill="#4d4d4d" text-anchor="middle">180 degrees</text><text x="538.3" y="339.8" font-size="12" font-weight="bold" fill="#000" text-anchor="middle">phase offset condition</text><text transform="translate(369.3,231.2) rotate(-90)" x="0" y="0" font-size="12" font-weight="bold" fill="#000" text-anchor="middle">Recall Accuracy (proportion)</text><text x="535.5" y="119" font-size="18" font-weight="bold" fill="#000" text-anchor="middle">Associative memory performance</text><text x="538.4" y="138.8" font-size="17.5" font-weight="bold" fill="#000" text-anchor="middle">(N=25)</text></g>
<g id="panelC"><rect x="327.9" y="496.7" width="97.2" height="72.50000000000006" fill="#e6e7e8"/><path d="M133.9,532.9 C134.5,532.8 136.8,531.9 137.9,532.0 C139.0,532.2 139.3,533.2 140.5,533.8 C141.7,534.4 143.4,535.7 144.9,535.9 C146.4,536.1 147.8,535.0 149.3,535.2 C150.7,535.4 152.3,537.3 153.7,537.3 C155.0,537.3 156.0,536.2 157.2,535.2 C158.3,534.2 159.5,531.9 160.7,531.5 C161.8,531.1 163.0,532.8 164.2,532.9 C165.3,533.0 166.6,532.3 167.7,532.0 C168.7,531.8 169.3,531.4 170.3,531.5 C171.3,531.7 172.5,532.4 173.8,532.9 C175.1,533.4 176.9,534.0 178.2,534.7 C179.5,535.3 180.5,536.2 181.7,537.0 C182.8,537.7 184.0,539.5 185.2,539.4 C186.4,539.3 187.5,537.2 188.7,536.4 C189.9,535.6 191.0,534.8 192.2,534.7 C193.4,534.6 194.5,536.1 195.7,535.9 C196.9,535.7 198.1,534.4 199.2,533.4 C200.3,532.5 201.0,530.7 202.2,530.3 C203.3,529.9 204.8,530.9 206.2,531.2 C207.6,531.4 209.0,531.3 210.6,531.7 C212.2,532.1 214.1,534.1 215.8,533.4 C217.6,532.8 219.5,529.4 221.1,527.7 C222.7,526.0 224.3,524.7 225.5,523.3 C226.6,521.8 227.2,520.1 228.1,518.9 C229.0,517.7 229.7,516.1 230.7,515.9 C231.8,515.7 233.2,518.5 234.2,517.7 C235.3,516.9 236.0,513.4 236.9,511.0 C237.7,508.7 238.6,503.4 239.5,503.7 C240.4,504.0 241.2,507.2 242.1,512.8 C243.0,518.4 244.0,529.5 244.8,537.3 C245.5,545.1 246.0,558.0 246.7,559.7 C247.3,561.5 248.0,553.6 248.8,547.8 C249.5,542.0 250.6,530.0 251.4,525.0 C252.2,520.1 252.9,517.2 253.7,518.0 C254.5,518.9 255.3,526.2 256.1,530.3 C256.9,534.4 257.6,539.9 258.4,542.6 C259.2,545.2 259.9,545.8 261.0,546.1 C262.2,546.4 263.8,544.5 265.4,544.3 C267.0,544.2 269.1,544.8 270.7,545.2 C272.3,545.5 273.7,546.9 275.0,546.4 C276.4,546.0 277.2,544.3 278.5,542.6 C279.9,540.8 281.6,536.8 282.9,535.9 C284.2,535.0 285.3,536.2 286.4,537.3 C287.6,538.4 288.9,541.4 289.9,542.6 C291.0,543.7 291.4,544.4 292.6,544.0 C293.7,543.5 295.5,541.6 296.9,539.9 C298.4,538.2 300.0,536.0 301.3,533.8 C302.6,531.6 303.7,529.0 304.8,526.8 C306.0,524.6 307.2,521.4 308.3,520.7 C309.5,519.9 310.4,521.1 311.8,522.4 C313.3,523.7 315.3,526.5 317.1,528.5 C318.8,530.6 320.9,533.8 322.3,534.7 C323.8,535.6 324.7,535.1 325.8,533.8 C327.0,532.5 328.2,528.7 329.3,526.8 C330.5,524.9 331.7,522.7 332.9,522.4 C334.0,522.1 335.0,523.1 336.4,525.0 C337.7,526.9 339.3,531.5 340.7,533.8 C342.2,536.1 343.8,538.8 345.1,539.1 C346.4,539.3 347.4,537.7 348.6,535.6 C349.9,533.4 351.4,528.0 352.6,525.9 C353.9,523.9 355.0,522.8 356.1,523.3 C357.3,523.7 358.5,526.4 359.6,528.5 C360.8,530.6 362.0,534.4 363.1,535.9 C364.3,537.4 365.5,537.3 366.6,537.7 C367.8,538.0 369.0,538.5 370.1,538.2 C371.3,537.9 372.5,537.4 373.7,535.9 C374.8,534.4 376.0,530.9 377.2,529.4 C378.3,528.0 379.5,527.1 380.7,527.1 C381.8,527.1 383.0,528.0 384.2,529.4 C385.3,530.8 386.4,533.6 387.7,535.6 C389.0,537.5 390.7,540.4 392.0,541.2 C393.4,541.9 394.4,541.0 395.6,539.9 C396.7,538.8 397.9,536.3 399.1,534.7 C400.2,533.1 401.4,531.3 402.6,530.3 C403.7,529.3 404.7,528.4 406.1,528.5 C407.4,528.7 409.0,530.3 410.4,531.2 C411.9,532.0 413.5,532.8 414.8,533.8 C416.1,534.8 417.2,536.1 418.3,537.3 C419.5,538.5 420.7,541.2 421.8,540.8 C423.0,540.4 424.0,537.3 425.3,534.7 C426.6,532.0 428.4,526.1 429.7,525.0 C431.0,524.0 432.0,527.1 433.2,528.5 C434.4,530.0 435.4,532.8 436.7,533.8 C438.0,534.8 439.6,534.8 441.1,534.7 C442.6,534.5 444.0,533.8 445.5,532.9 C446.9,532.0 448.4,530.4 449.9,529.4 C451.3,528.4 452.8,526.5 454.2,526.8 C455.7,527.1 457.7,530.4 458.6,531.2 C459.6,532.0 459.2,530.8 460.0,531.7 C460.8,532.6 462.3,535.1 463.5,536.4 C464.7,537.8 466.2,539.9 467.4,539.9 C468.5,539.9 469.4,538.5 470.5,536.4 C471.6,534.4 473.0,529.9 474.0,527.7 C475.0,525.5 475.6,523.3 476.6,523.3 C477.7,523.3 479.0,526.2 480.1,527.7 C481.3,529.1 482.3,530.7 483.7,532.0 C485.0,533.4 486.7,534.7 488.0,535.6 C489.3,536.4 490.4,537.2 491.5,537.3 C492.7,537.4 493.7,537.4 495.0,536.4 C496.4,535.4 498.0,532.8 499.4,531.2 C500.9,529.6 502.5,527.1 503.8,526.8 C505.1,526.5 506.1,528.1 507.3,529.4 C508.5,530.7 509.6,532.9 510.8,534.7 C512.0,536.4 513.1,538.3 514.3,539.9 C515.5,541.5 516.6,544.2 517.8,544.3 C519.0,544.5 520.1,542.1 521.3,540.8 C522.5,539.5 523.8,537.4 524.8,536.4 C525.8,535.4 526.4,534.7 527.4,534.7 C528.5,534.7 529.6,535.4 531.0,536.4 C532.3,537.4 533.9,539.3 535.3,540.8 C536.8,542.4 538.5,545.7 539.7,545.7 C540.9,545.7 541.5,543.1 542.3,540.8 C543.2,538.5 544.1,534.9 545.0,532.0 C545.8,529.2 546.7,525.2 547.6,523.6 C548.5,522.1 549.1,522.4 550.2,522.9 C551.4,523.5 553.0,526.2 554.6,526.8 C556.2,527.4 558.2,526.7 559.8,526.4 C561.4,526.2 563.0,525.6 564.2,525.4 C565.3,525.2 565.9,524.7 566.8,525.0 C567.7,525.4 568.4,526.6 569.4,527.7 C570.4,528.7 571.8,530.8 572.9,531.2 C574.1,531.5 575.3,530.4 576.4,529.9 C577.6,529.5 578.8,528.5 579.9,528.5 C581.1,528.6 582.3,529.7 583.4,530.3 C584.6,530.9 585.8,531.6 586.9,532.0 C588.1,532.5 589.3,532.9 590.4,532.9 C591.6,532.9 592.8,532.3 593.9,532.0 C595.1,531.8 596.4,531.0 597.4,531.2 C598.5,531.3 599.2,532.4 600.1,532.9 C601.0,533.4 601.7,534.3 602.7,534.1 C603.7,534.0 605.2,532.6 606.2,532.0 C607.2,531.5 608.0,530.6 608.8,530.6 C609.7,530.6 610.6,531.4 611.5,532.0 C612.3,532.7 613.2,534.0 614.1,534.7 C615.0,535.3 616.0,535.7 616.7,535.9 C617.5,536.1 618.2,535.9 618.5,535.9" fill="none" stroke="#3a7fc1" stroke-width="1.75" stroke-linejoin="round"/><path d="M133.9,532.9 C134.4,533.2 135.9,534.6 137.0,534.7 C138.1,534.8 139.2,533.9 140.5,533.4 C141.8,533.0 143.4,531.8 144.9,532.0 C146.4,532.3 147.8,534.2 149.3,534.7 C150.7,535.1 152.3,535.0 153.7,534.7 C155.0,534.4 155.8,533.0 157.2,532.9 C158.5,532.8 160.1,534.1 161.5,534.1 C163.0,534.1 164.2,533.5 165.9,532.9 C167.7,532.3 170.1,531.1 172.0,530.6 C173.9,530.1 175.6,530.1 177.3,529.9 C179.1,529.7 181.1,529.3 182.6,529.4 C184.0,529.5 184.7,530.1 186.1,530.6 C187.4,531.1 189.0,532.2 190.4,532.4 C191.9,532.6 193.5,532.0 194.8,532.0 C196.1,532.0 197.2,532.0 198.3,532.4 C199.5,532.8 200.8,534.1 201.8,534.7 C202.9,535.3 203.4,536.0 204.5,535.9 C205.5,535.8 206.6,534.7 208.0,534.1 C209.3,533.6 210.9,532.5 212.3,532.4 C213.8,532.3 215.3,533.9 216.7,533.8 C218.2,533.7 219.6,532.2 221.1,532.0 C222.6,531.9 223.9,532.9 225.5,532.9 C227.1,532.9 229.3,531.8 230.7,532.0 C232.2,532.3 233.2,534.3 234.2,534.1 C235.3,534.0 236.0,532.3 236.9,531.2 C237.7,530.1 238.6,527.5 239.5,527.7 C240.4,527.8 241.1,530.2 242.1,532.0 C243.1,533.9 244.2,537.7 245.6,538.7 C247.0,539.7 249.2,538.4 250.5,538.2 C251.9,537.9 252.6,539.5 253.7,537.3 C254.7,535.1 255.6,529.0 256.6,525.0 C257.7,521.1 259.0,513.7 260.1,513.7 C261.3,513.7 262.5,520.5 263.7,525.0 C264.8,529.6 266.1,538.5 267.2,540.8 C268.2,543.1 268.9,539.9 269.8,539.1 C270.7,538.2 271.5,536.2 272.4,535.9 C273.3,535.6 274.0,539.1 275.0,537.3 C276.1,535.5 277.2,530.2 278.5,525.0 C279.9,519.8 281.6,507.3 282.9,506.1 C284.2,504.9 285.3,512.8 286.4,518.0 C287.6,523.2 288.9,533.7 289.9,537.3 C291.0,541.0 291.7,539.7 292.6,539.9 C293.4,540.2 294.0,538.0 295.2,538.7 C296.4,539.4 298.4,544.8 299.6,544.3 C300.7,543.8 301.3,538.8 302.2,535.6 C303.1,532.3 303.9,527.7 304.8,525.0 C305.7,522.4 306.6,519.5 307.4,519.8 C308.3,520.1 309.2,523.9 310.1,526.8 C311.0,529.7 311.8,534.5 312.7,537.3 C313.6,540.1 314.5,542.8 315.3,543.4 C316.2,544.0 317.1,541.7 318.0,540.8 C318.8,539.9 319.7,538.3 320.6,538.2 C321.5,538.0 322.3,540.1 323.2,539.9 C324.1,539.8 325.0,539.5 325.8,537.3 C326.7,535.1 327.5,530.3 328.5,526.8 C329.4,523.3 330.4,516.7 331.5,516.3 C332.5,515.8 333.6,520.4 334.6,524.2 C335.6,528.0 336.4,535.7 337.2,539.1 C338.0,542.4 338.8,543.9 339.5,544.3 C340.2,544.7 340.9,542.6 341.6,541.7 C342.3,540.8 343.0,539.1 343.7,539.1 C344.4,539.1 345.2,540.9 346.0,541.7 C346.8,542.5 347.4,545.6 348.3,544.0 C349.1,542.4 349.9,536.4 351.2,532.0 C352.6,527.7 354.7,518.4 356.1,517.7 C357.5,517.0 358.5,524.1 359.6,527.7 C360.8,531.2 362.0,537.3 363.1,539.1 C364.3,540.8 365.6,538.2 366.6,538.2 C367.7,538.1 368.2,538.1 369.3,538.7 C370.3,539.3 371.6,543.1 372.8,541.7 C373.9,540.3 375.1,534.6 376.3,530.3 C377.4,526.0 378.6,516.8 379.8,515.9 C381.0,515.1 382.1,521.1 383.3,525.0 C384.5,529.0 385.8,536.9 386.8,539.4 C387.8,541.9 388.4,540.9 389.4,539.9 C390.4,539.0 391.8,534.5 392.9,533.8 C394.0,533.1 394.9,535.8 395.9,535.6 C396.9,535.3 398.0,534.4 399.1,532.0 C400.1,529.7 401.3,523.9 402.2,521.5 C403.1,519.2 403.7,517.2 404.7,518.0 C405.6,518.9 406.7,523.1 407.8,526.8 C408.9,530.4 410.3,537.4 411.3,539.9 C412.3,542.4 412.9,542.0 413.9,541.7 C415.0,541.4 416.3,538.3 417.4,538.2 C418.6,538.0 419.9,541.0 421.0,540.8 C422.0,540.7 422.7,539.9 423.6,537.3 C424.5,534.7 425.3,528.3 426.2,525.0 C427.1,521.8 428.0,517.7 428.8,517.7 C429.7,517.7 430.6,521.8 431.5,525.0 C432.3,528.3 433.2,534.4 434.1,537.3 C435.0,540.2 435.7,542.1 436.7,542.2 C437.7,542.4 439.1,538.6 440.2,538.2 C441.4,537.8 442.7,539.5 443.7,539.9 C444.8,540.4 445.5,542.7 446.4,540.8 C447.2,538.9 448.0,532.3 449.0,528.5 C450.0,524.8 451.5,519.0 452.5,518.4 C453.5,517.8 454.1,521.6 455.1,525.0 C456.1,528.5 457.5,536.2 458.6,539.1 C459.8,541.9 461.0,542.4 462.1,542.2 C463.3,542.1 464.3,539.1 465.6,538.2 C466.9,537.3 468.9,538.7 470.0,537.0 C471.1,535.2 471.4,530.5 472.3,527.7 C473.1,524.8 474.1,521.7 474.9,519.8 C475.7,517.9 476.3,516.0 477.0,516.3 C477.7,516.6 478.5,518.6 479.3,521.5 C480.1,524.5 481.0,531.0 481.9,533.8 C482.8,536.6 483.5,538.2 484.5,538.2 C485.5,538.2 487.0,534.1 488.0,533.8 C489.1,533.5 489.6,535.4 490.7,536.4 C491.7,537.4 493.1,540.4 494.2,539.9 C495.2,539.5 495.9,536.9 496.8,533.8 C497.7,530.7 498.6,524.2 499.4,521.5 C500.2,518.9 500.8,517.4 501.5,518.0 C502.3,518.6 503.0,521.7 503.8,525.0 C504.6,528.4 505.6,535.3 506.4,538.2 C507.3,541.0 508.2,542.1 509.1,542.2 C509.9,542.4 510.9,540.1 511.7,539.1 C512.5,538.0 513.2,535.9 514.0,535.9 C514.7,535.9 515.3,537.8 516.1,539.1 C516.9,540.3 517.8,544.0 518.7,543.4 C519.6,542.8 520.5,538.9 521.3,535.6 C522.1,532.2 522.8,526.3 523.4,523.3 C524.1,520.3 524.5,517.4 525.2,517.7 C525.8,518.0 526.6,522.4 527.4,525.0 C528.3,527.7 529.3,532.2 530.1,533.8 C530.8,535.4 531.1,535.4 531.8,534.7 C532.6,533.9 533.7,530.7 534.5,529.4 C535.2,528.2 535.8,526.8 536.6,527.1 C537.3,527.4 538.5,530.2 539.2,531.2 C539.9,532.1 540.3,533.2 540.9,532.9 C541.6,532.6 542.4,531.0 543.2,529.4 C544.0,527.9 545.0,524.2 545.8,523.6 C546.7,523.1 547.5,523.9 548.4,525.9 C549.3,527.9 550.1,533.1 551.0,535.6 C551.9,538.0 552.8,540.0 553.7,540.5 C554.5,540.9 555.3,539.1 556.3,538.2 C557.3,537.2 558.5,535.3 559.8,534.7 C561.1,534.1 562.8,534.5 564.2,534.7 C565.5,534.9 566.5,535.5 567.7,535.9 C568.8,536.3 570.0,537.2 571.2,537.0 C572.3,536.7 573.7,535.5 574.7,534.7 C575.7,533.9 576.3,532.3 577.3,532.0 C578.3,531.8 579.8,532.9 580.8,532.9 C581.8,532.9 582.4,532.5 583.4,532.0 C584.5,531.5 585.8,529.9 586.9,529.9 C588.1,529.9 589.3,531.1 590.4,532.0 C591.6,533.0 592.9,535.1 593.9,535.9 C595.0,536.7 595.6,536.8 596.6,537.0 C597.6,537.1 598.6,537.0 600.1,537.0 C601.5,537.0 603.4,536.9 605.3,537.0 C607.2,537.0 610.0,537.5 611.5,537.3 C612.9,537.1 613.2,536.3 614.1,535.9 C615.0,535.5 616.0,535.2 616.7,535.0 C617.5,534.8 618.2,534.7 618.5,534.7" fill="none" stroke="#f58025" stroke-width="1.75" stroke-linejoin="round"/><line x1="230.8" y1="497.2" x2="230.8" y2="569.2" stroke="#111" stroke-width="1.3" stroke-dasharray="4,2.5"/><path d="M133.6,496.7 V569.2 H619.6" fill="none" stroke="#3c3c3c" stroke-width="1.1"/><line x1="130.6" y1="502.4" x2="133.6" y2="502.4" stroke="#333" stroke-width="0.9"/><text x="129.1" y="505.4" font-size="8.4" fill="#222" text-anchor="end">5</text><line x1="130.6" y1="532.8" x2="133.6" y2="532.8" stroke="#333" stroke-width="0.9"/><text x="129.1" y="535.8" font-size="8.4" fill="#222" text-anchor="end">0</text><line x1="130.6" y1="563.1" x2="133.6" y2="563.1" stroke="#333" stroke-width="0.9"/><text x="129.1" y="566.1" font-size="8.4" fill="#222" text-anchor="end" textLength="10.4" lengthAdjust="spacingAndGlyphs">−5</text><line x1="133.6" y1="569.2" x2="133.6" y2="572.0" stroke="#333" stroke-width="0.9"/><text x="133.6" y="580.4" font-size="8.4" fill="#222" text-anchor="middle" textLength="9.6" lengthAdjust="spacingAndGlyphs">−1</text><line x1="230.8" y1="569.2" x2="230.8" y2="572.0" stroke="#333" stroke-width="0.9"/><text x="230.8" y="580.4" font-size="8.4" fill="#222" text-anchor="middle">0</text><line x1="328.0" y1="569.2" x2="328.0" y2="572.0" stroke="#333" stroke-width="0.9"/><text x="328.0" y="580.4" font-size="8.4" fill="#222" text-anchor="middle">1</text><line x1="425.2" y1="569.2" x2="425.2" y2="572.0" stroke="#333" stroke-width="0.9"/><text x="425.2" y="580.4" font-size="8.4" fill="#222" text-anchor="middle">2</text><line x1="522.4" y1="569.2" x2="522.4" y2="572.0" stroke="#333" stroke-width="0.9"/><text x="522.4" y="580.4" font-size="8.4" fill="#222" text-anchor="middle">3</text><line x1="619.6" y1="569.2" x2="619.6" y2="572.0" stroke="#333" stroke-width="0.9"/><text x="619.6" y="580.4" font-size="8.4" fill="#222" text-anchor="middle">4</text><text x="291.3" y="491.8" font-size="15.3" fill="#000">0</text><text x="303.3" y="488.8" font-size="10.5" fill="#000">°</text><text x="311.3" y="491.8" font-size="15.5" fill="#000">phase offset condition</text><text x="377.3" y="595.6" font-size="15.3" fill="#000" text-anchor="middle">Time (s)</text><text transform="translate(78.2,532.8) rotate(-90)" font-size="15.4" fill="#000" text-anchor="middle">Normalised</text><text transform="translate(94.4,532.8) rotate(-90)" font-size="15.4" fill="#000" text-anchor="middle">Amplitude</text><text transform="translate(111.3,532.8) rotate(-90)" font-size="15.4" fill="#000" text-anchor="middle">(a. u.)</text><line x1="540.3" y1="506.8" x2="556.6" y2="506.8" stroke="#3a7fc1" stroke-width="1.6"/><line x1="540.3" y1="518.0" x2="556.6" y2="518.0" stroke="#f58025" stroke-width="1.6"/><text x="562.4" y="509.7" font-size="8.2" fill="#222">Auditory ERP</text><text x="562.4" y="520.9" font-size="8.2" fill="#222">Visual ERP</text><line x1="340.0" y1="658.7" x2="413.0" y2="658.7" stroke="#bdbdbd" stroke-width="0.9"/><line x1="350.7" y1="684.5" x2="402.3" y2="632.9" stroke="#bdbdbd" stroke-width="0.9"/><line x1="376.5" y1="695.2" x2="376.5" y2="622.2" stroke="#bdbdbd" stroke-width="0.9"/><line x1="402.3" y1="684.5" x2="350.7" y2="632.9" stroke="#bdbdbd" stroke-width="0.9"/><path d="M376.5,658.7 L396.7,646.1 A23.8,23.8 0 0 0 394.7,643.4 Z" fill="#1f77b4" fill-opacity="0.06" stroke="#3a7fc1" stroke-width="0.9" stroke-linejoin="miter"/><path d="M376.5,658.7 L391.1,652.2 A16,16 0 0 0 390.1,650.2 Z" fill="#1f77b4" fill-opacity="0.06" stroke="#3a7fc1" stroke-width="0.9" stroke-linejoin="miter"/><path d="M376.5,658.7 L389.0,655.1 A13,13 0 0 0 388.4,653.4 Z" fill="#1f77b4" fill-opacity="0.06" stroke="#3a7fc1" stroke-width="0.9" stroke-linejoin="miter"/><path d="M376.5,658.7 L387.4,657.2 A11,11 0 0 0 387.1,655.7 Z" fill="#1f77b4" fill-opacity="0.06" stroke="#3a7fc1" stroke-width="0.9" stroke-linejoin="miter"/><path d="M376.5,658.7 L405.0,658.7 A28.5,28.5 0 0 0 404.7,654.7 Z" fill="#1f77b4" fill-opacity="0.06" stroke="#3a7fc1" stroke-width="0.9" stroke-linejoin="miter"/><path d="M376.5,658.7 L410.9,663.5 A34.7,34.7 0 0 0 411.2,658.7 Z" fill="#1f77b4" fill-opacity="0.06" stroke="#3a7fc1" stroke-width="0.9" stroke-linejoin="miter"/><path d="M376.5,658.7 L406.8,667.4 A31.5,31.5 0 0 0 407.7,663.1 Z" fill="#1f77b4" fill-opacity="0.06" stroke="#3a7fc1" stroke-width="0.9" stroke-linejoin="miter"/><path d="M376.5,658.7 L399.3,668.9 A25,25 0 0 0 400.5,665.6 Z" fill="#1f77b4" fill-opacity="0.06" stroke="#3a7fc1" stroke-width="0.9" stroke-linejoin="miter"/><path d="M376.5,658.7 L396.9,671.4 A24,24 0 0 0 398.4,668.5 Z" fill="#1f77b4" fill-opacity="0.06" stroke="#3a7fc1" stroke-width="0.9" stroke-linejoin="miter"/><path d="M376.5,658.7 L394.9,674.1 A24,24 0 0 0 396.9,671.4 Z" fill="#1f77b4" fill-opacity="0.06" stroke="#3a7fc1" stroke-width="0.9" stroke-linejoin="miter"/><path d="M376.5,658.7 L397.9,682.5 A32,32 0 0 0 401.0,679.3 Z" fill="#1f77b4" fill-opacity="0.06" stroke="#3a7fc1" stroke-width="0.9" stroke-linejoin="miter"/><path d="M376.5,658.7 L386.6,673.6 A18,18 0 0 0 388.5,672.1 Z" fill="#1f77b4" fill-opacity="0.06" stroke="#3a7fc1" stroke-width="0.9" stroke-linejoin="miter"/><path d="M376.5,658.7 L386.6,679.4 A23,23 0 0 0 389.4,677.8 Z" fill="#1f77b4" fill-opacity="0.06" stroke="#3a7fc1" stroke-width="0.9" stroke-linejoin="miter"/><path d="M376.5,658.7 L381.1,673.0 A15,15 0 0 0 383.1,672.2 Z" fill="#1f77b4" fill-opacity="0.06" stroke="#3a7fc1" stroke-width="0.9" stroke-linejoin="miter"/><path d="M376.5,658.7 L378.9,672.5 A14,14 0 0 0 380.8,672.0 Z" fill="#1f77b4" fill-opacity="0.06" stroke="#3a7fc1" stroke-width="0.9" stroke-linejoin="miter"/><path d="M376.5,658.7 L376.5,682.5 A23.8,23.8 0 0 0 380.6,682.1 Z" fill="#1f77b4" fill-opacity="0.06" stroke="#3a7fc1" stroke-width="0.9" stroke-linejoin="miter"/><circle cx="376.5" cy="658.7" r="36.5" fill="none" stroke="#333" stroke-width="1"/><text x="423.5" y="661.6" font-size="8.6" fill="#222" text-anchor="middle">0°</text><text x="410.1" y="628.0" font-size="8.6" fill="#222" text-anchor="middle">45°</text><text x="376.5" y="614.1" font-size="8.6" fill="#222" text-anchor="middle">90°</text><text x="342.9" y="628.0" font-size="8.6" fill="#222" text-anchor="middle">135°</text><text x="329.5" y="661.6" font-size="8.6" fill="#222" text-anchor="middle">180°</text><text x="342.9" y="695.2" font-size="8.6" fill="#222" text-anchor="middle">225°</text><text x="376.5" y="709.1" font-size="8.6" fill="#222" text-anchor="middle">270°</text><text x="410.1" y="695.2" font-size="8.6" fill="#222" text-anchor="middle">315°</text><rect x="327.9" y="748.8" width="97.2" height="72.50000000000011" fill="#e6e7e8"/><path d="M133.9,787.3 C134.4,787.0 135.9,786.1 137.0,785.5 C138.1,785.0 139.3,784.2 140.5,784.1 C141.7,784.1 143.0,785.2 144.0,785.0 C145.0,784.9 145.8,784.1 146.6,783.3 C147.5,782.4 148.5,780.5 149.3,779.8 C150.0,779.0 150.3,778.5 151.0,778.9 C151.8,779.3 152.8,781.2 153.7,782.4 C154.5,783.6 155.4,785.5 156.3,786.2 C157.2,787.0 157.9,787.1 158.9,786.8 C159.9,786.5 161.2,784.6 162.4,784.5 C163.6,784.4 164.7,785.8 165.9,786.2 C167.1,786.7 168.3,787.1 169.4,787.3 C170.6,787.5 171.7,787.2 172.9,787.7 C174.2,788.1 175.6,789.8 177.0,789.8 C178.3,789.7 179.6,788.1 180.8,787.3 C182.0,786.5 183.1,784.9 184.3,785.0 C185.5,785.1 186.5,786.9 187.8,788.0 C189.1,789.1 190.9,791.3 192.2,791.5 C193.5,791.7 194.5,790.3 195.7,789.4 C196.9,788.5 197.9,786.8 199.2,786.2 C200.5,785.7 202.0,785.9 203.6,785.9 C205.2,785.9 207.2,786.6 208.8,786.2 C210.4,785.9 211.9,784.5 213.2,783.8 C214.5,783.1 215.4,782.3 216.7,782.0 C218.0,781.8 219.6,782.7 221.1,782.0 C222.6,781.4 224.2,779.9 225.5,778.0 C226.8,776.2 228.1,772.5 229.0,771.0 C229.9,769.5 229.9,769.8 230.7,769.3 C231.6,768.8 233.2,769.1 234.2,768.0 C235.3,767.0 236.0,765.0 236.9,763.1 C237.7,761.3 238.6,757.0 239.5,757.0 C240.4,757.0 241.2,759.5 242.1,763.1 C243.0,766.8 243.9,774.4 244.8,778.9 C245.6,783.4 245.9,788.1 247.0,790.3 C248.1,792.5 249.9,791.0 251.4,792.0 C252.8,793.1 254.5,796.8 255.8,796.4 C257.1,796.0 258.2,791.7 259.3,789.4 C260.4,787.1 261.4,782.9 262.4,782.7 C263.4,782.6 264.3,786.8 265.4,788.5 C266.5,790.2 267.7,792.3 268.9,792.9 C270.1,793.5 271.2,791.2 272.4,792.0 C273.6,792.9 274.7,795.7 275.9,798.2 C277.1,800.6 278.3,806.3 279.4,806.6 C280.6,806.9 281.8,801.8 282.9,799.9 C284.1,798.1 285.3,796.8 286.4,795.5 C287.6,794.2 288.9,793.8 289.9,792.0 C291.0,790.3 291.7,786.9 292.6,785.0 C293.4,783.1 294.3,780.8 295.2,780.6 C296.1,780.5 296.9,782.7 297.8,784.1 C298.7,785.6 299.3,789.0 300.4,789.4 C301.6,789.8 303.4,787.7 304.8,786.8 C306.3,785.9 307.9,785.3 309.2,784.1 C310.5,783.0 311.5,781.1 312.7,779.8 C313.9,778.5 315.0,776.7 316.2,776.3 C317.4,775.8 318.4,776.4 319.7,777.1 C321.0,777.9 322.8,779.5 324.1,780.6 C325.4,781.8 326.4,782.7 327.6,783.8 C328.8,784.9 329.9,787.1 331.1,787.3 C332.3,787.5 333.4,786.3 334.6,785.0 C335.8,783.8 336.8,781.1 338.1,779.8 C339.4,778.5 341.0,777.3 342.5,777.1 C343.9,777.0 345.2,777.3 346.9,778.9 C348.6,780.5 351.1,785.3 352.6,786.8 C354.2,788.3 354.8,788.3 356.1,788.0 C357.4,787.7 359.2,786.4 360.5,785.0 C361.8,783.6 362.8,781.1 364.0,779.8 C365.2,778.5 366.4,777.1 367.5,777.1 C368.7,777.1 369.9,778.2 371.0,779.8 C372.2,781.4 373.4,784.4 374.5,786.8 C375.7,789.1 376.9,792.2 378.0,793.8 C379.1,795.3 380.2,796.4 381.2,796.1 C382.2,795.8 383.1,794.3 384.2,792.0 C385.2,789.8 386.5,784.7 387.7,782.4 C388.8,780.1 390.0,778.5 391.2,778.0 C392.3,777.6 393.5,778.6 394.7,779.8 C395.8,780.9 397.0,783.3 398.2,785.0 C399.3,786.8 400.7,789.1 401.7,790.3 C402.7,791.4 403.3,792.2 404.3,792.0 C405.3,791.9 406.6,790.7 407.8,789.4 C409.0,788.1 410.1,785.8 411.3,784.1 C412.5,782.5 413.8,780.3 414.8,779.2 C415.8,778.2 416.6,777.6 417.4,778.0 C418.3,778.4 419.2,780.1 420.1,781.5 C421.0,783.0 421.8,785.5 422.7,786.8 C423.6,788.0 424.3,788.6 425.3,789.1 C426.4,789.5 427.7,789.4 428.8,789.4 C430.0,789.4 431.2,790.4 432.3,789.1 C433.5,787.7 434.7,783.9 435.8,781.5 C437.0,779.2 438.2,775.5 439.3,775.0 C440.5,774.6 441.7,777.1 442.9,778.9 C444.0,780.7 445.2,784.4 446.4,785.9 C447.5,787.4 448.7,787.6 449.9,788.0 C451.0,788.4 452.2,788.2 453.4,788.5 C454.5,788.8 455.7,790.5 456.9,789.8 C458.0,789.0 459.2,786.4 460.4,784.1 C461.5,781.9 462.7,777.3 463.9,776.3 C465.0,775.2 466.1,776.4 467.4,778.0 C468.6,779.6 470.1,784.1 471.4,785.9 C472.6,787.7 473.7,788.0 474.9,788.5 C476.1,789.1 477.2,789.5 478.4,789.1 C479.6,788.6 480.7,787.6 481.9,785.9 C483.1,784.2 484.3,780.7 485.4,778.9 C486.5,777.1 487.4,775.3 488.4,775.0 C489.4,774.7 490.4,775.8 491.5,777.1 C492.6,778.5 493.9,781.3 495.0,783.3 C496.2,785.3 497.4,787.7 498.5,789.1 C499.7,790.4 500.9,791.2 502.0,791.2 C503.2,791.1 504.4,790.1 505.6,788.5 C506.7,786.9 507.9,783.5 509.1,781.5 C510.2,779.6 511.5,777.2 512.6,776.8 C513.6,776.4 514.3,777.4 515.2,778.9 C516.1,780.4 516.9,783.9 517.8,785.9 C518.7,787.9 519.4,790.0 520.4,791.2 C521.5,792.3 522.8,792.3 523.9,792.9 C525.1,793.5 526.4,793.8 527.4,794.7 C528.5,795.5 529.2,797.7 530.1,797.8 C531.0,798.0 531.8,796.3 532.7,795.5 C533.6,794.8 534.5,793.1 535.3,793.3 C536.2,793.4 537.1,794.9 538.0,796.4 C538.8,798.0 539.7,802.7 540.6,802.5 C541.5,802.4 542.3,798.9 543.2,795.5 C544.1,792.2 545.0,786.0 545.8,782.4 C546.7,778.7 547.6,774.7 548.5,773.6 C549.3,772.6 550.0,775.4 551.0,776.3 C552.0,777.1 553.4,778.6 554.5,778.9 C555.7,779.2 556.9,778.2 558.0,778.0 C559.2,777.9 560.4,778.5 561.5,778.0 C562.7,777.6 564.0,776.0 565.0,775.4 C566.1,774.8 566.8,774.1 567.7,774.5 C568.5,774.9 569.4,776.7 570.3,778.0 C571.2,779.3 572.0,781.2 572.9,782.4 C573.8,783.6 574.4,784.7 575.6,785.0 C576.7,785.3 578.5,784.4 579.9,784.1 C581.4,783.9 582.7,784.0 584.3,783.8 C585.9,783.6 588.0,783.0 589.6,782.7 C591.2,782.5 592.5,782.2 593.9,782.0 C595.4,781.9 597.0,781.8 598.3,782.0 C599.6,782.2 600.7,782.5 601.8,783.3 C603.0,784.1 604.2,785.9 605.3,786.8 C606.5,787.7 607.5,788.3 608.8,788.5 C610.2,788.7 611.6,788.0 613.2,788.0 C614.8,788.0 617.6,788.4 618.5,788.5" fill="none" stroke="#3a7fc1" stroke-width="1.75" stroke-linejoin="round"/><path d="M133.9,783.8 C134.5,783.9 136.5,784.1 137.9,784.1 C139.3,784.1 141.1,783.7 142.3,783.8 C143.4,783.9 144.0,784.1 144.9,784.5 C145.8,784.9 146.6,785.9 147.5,786.2 C148.4,786.6 149.3,787.1 150.1,786.8 C151.0,786.5 151.9,785.2 152.8,784.5 C153.7,783.8 154.4,782.7 155.4,782.7 C156.4,782.8 157.7,784.6 158.9,785.0 C160.1,785.5 161.2,785.8 162.4,785.5 C163.6,785.3 164.6,784.1 165.9,783.8 C167.2,783.5 168.8,783.9 170.3,783.8 C171.8,783.7 173.2,783.2 174.7,783.4 C176.1,783.6 177.7,784.9 179.1,785.0 C180.4,785.1 181.4,784.4 182.6,784.1 C183.7,783.9 184.7,783.2 186.1,783.3 C187.4,783.3 189.0,784.3 190.4,784.5 C191.9,784.7 193.4,784.4 194.8,784.5 C196.3,784.6 197.7,785.0 199.2,785.0 C200.7,785.0 202.3,784.7 203.6,784.5 C204.9,784.3 205.9,783.5 207.1,783.6 C208.3,783.7 209.4,784.3 210.6,785.0 C211.8,785.8 212.9,787.6 214.1,788.0 C215.3,788.4 216.3,787.9 217.6,787.7 C218.9,787.4 220.5,787.1 222.0,786.8 C223.4,786.4 225.0,786.1 226.4,785.5 C227.7,785.0 228.7,783.4 229.9,783.3 C231.0,783.2 232.3,785.0 233.4,785.0 C234.4,785.0 235.1,783.9 236.0,783.3 C236.9,782.7 237.7,781.2 238.6,781.5 C239.5,781.8 240.6,784.0 241.2,785.0 C241.9,786.0 242.2,786.9 242.6,787.7 C243.1,788.4 243.4,789.1 243.9,789.4 C244.3,789.7 244.7,789.6 245.3,789.4 C245.8,789.2 246.4,788.4 247.0,788.0 C247.6,787.6 247.9,786.5 248.8,786.8 C249.6,787.0 251.2,790.1 252.3,789.4 C253.3,788.7 254.0,785.3 254.9,782.4 C255.8,779.5 256.6,774.5 257.5,771.9 C258.4,769.3 259.3,766.3 260.1,766.6 C261.0,766.9 261.9,770.3 262.8,773.6 C263.7,777.0 264.5,783.7 265.4,786.8 C266.3,789.8 267.0,791.7 268.0,792.0 C269.1,792.3 270.4,789.1 271.5,788.5 C272.7,787.9 273.9,790.4 275.0,788.5 C276.2,786.6 277.3,781.6 278.5,777.1 C279.8,772.7 281.2,762.7 282.4,761.7 C283.6,760.7 284.6,767.0 285.6,771.0 C286.5,775.0 287.3,782.0 288.2,785.9 C289.1,789.8 289.8,793.8 290.8,794.7 C291.8,795.5 293.3,791.9 294.3,791.2 C295.3,790.4 295.9,790.1 296.9,790.3 C298.0,790.4 299.3,793.3 300.4,792.0 C301.6,790.7 302.8,785.9 303.9,782.4 C305.1,778.9 306.4,771.9 307.4,771.0 C308.5,770.1 309.2,774.1 310.1,777.1 C311.0,780.2 311.8,786.2 312.7,789.4 C313.6,792.6 314.3,796.0 315.3,796.4 C316.4,796.8 317.7,793.1 318.8,792.0 C320.0,791.0 321.3,790.4 322.3,790.3 C323.4,790.1 324.1,792.5 325.0,791.2 C325.8,789.8 326.6,786.2 327.6,782.4 C328.6,778.6 330.1,769.5 331.1,768.4 C332.1,767.2 332.9,771.9 333.7,775.4 C334.6,778.9 335.5,786.2 336.4,789.4 C337.2,792.6 338.0,794.2 339.0,794.7 C340.0,795.1 341.5,792.5 342.5,792.0 C343.5,791.6 344.2,791.8 345.1,792.0 C346.0,792.2 346.7,794.3 347.7,793.3 C348.8,792.2 350.4,788.6 351.2,785.9 C352.1,783.2 351.8,780.1 352.6,777.1 C353.4,774.2 355.0,768.1 356.1,768.4 C357.3,768.7 358.5,774.8 359.6,778.9 C360.8,783.0 362.1,790.1 363.1,792.9 C364.2,795.7 364.7,795.7 365.8,795.5 C366.8,795.4 368.1,792.8 369.3,792.0 C370.4,791.3 371.6,793.3 372.8,791.2 C373.9,789.0 375.1,782.8 376.3,778.9 C377.4,774.9 378.7,768.1 379.8,767.5 C380.9,766.9 381.9,771.3 382.9,775.4 C384.0,779.5 385.0,789.0 385.9,792.0 C386.8,795.1 387.5,794.4 388.5,793.8 C389.6,793.2 390.9,789.3 392.0,788.5 C393.2,787.8 394.4,790.1 395.6,789.4 C396.7,788.7 397.9,787.1 399.1,784.1 C400.2,781.2 401.3,774.5 402.2,771.9 C403.1,769.3 403.7,767.6 404.7,768.7 C405.6,769.9 406.7,774.9 407.8,778.9 C408.9,782.9 410.3,790.4 411.3,792.9 C412.3,795.4 412.9,794.8 413.9,793.8 C415.0,792.8 416.4,787.7 417.4,786.8 C418.5,785.9 419.3,787.9 420.1,788.5 C420.8,789.1 421.1,791.0 421.8,790.3 C422.6,789.5 423.6,787.1 424.5,784.1 C425.3,781.2 426.4,775.4 427.1,772.8 C427.8,770.1 428.1,767.6 428.8,768.0 C429.6,768.5 430.6,771.5 431.5,775.4 C432.3,779.2 433.2,787.9 434.1,791.2 C435.0,794.4 435.7,794.5 436.7,794.7 C437.7,794.8 439.1,792.3 440.2,792.0 C441.4,791.7 442.7,793.2 443.7,792.9 C444.8,792.6 445.5,792.9 446.4,790.3 C447.2,787.7 448.0,780.6 449.0,777.1 C450.0,773.7 451.5,769.8 452.5,769.8 C453.5,769.8 454.1,773.6 455.1,777.1 C456.1,780.7 457.6,788.4 458.6,791.2 C459.6,793.9 460.2,794.1 461.2,793.8 C462.3,793.4 463.4,789.8 464.8,789.1 C466.1,788.3 468.4,790.5 469.6,789.4 C470.9,788.3 471.4,785.3 472.3,782.4 C473.1,779.5 474.1,774.4 474.9,771.9 C475.7,769.4 476.3,767.2 477.0,767.5 C477.7,767.8 478.5,770.0 479.3,773.6 C480.1,777.3 481.0,785.8 481.9,789.4 C482.8,793.1 483.7,794.9 484.5,795.5 C485.4,796.1 486.1,794.2 487.2,792.9 C488.2,791.7 489.5,788.4 490.7,788.0 C491.8,787.6 493.1,790.9 494.2,790.3 C495.2,789.6 495.9,786.9 496.8,784.1 C497.7,781.4 498.6,776.1 499.4,773.6 C500.2,771.2 500.8,768.8 501.5,769.3 C502.3,769.7 503.0,772.9 503.8,776.3 C504.6,779.6 505.4,786.5 506.4,789.4 C507.4,792.3 508.8,793.5 509.9,793.8 C511.1,794.1 512.4,791.9 513.4,791.2 C514.5,790.4 515.2,789.3 516.1,789.4 C516.9,789.5 517.8,792.8 518.7,792.0 C519.6,791.3 520.5,787.9 521.3,785.0 C522.1,782.1 522.8,777.1 523.4,774.5 C524.1,772.0 524.5,769.3 525.2,769.8 C525.8,770.2 526.6,774.3 527.4,777.1 C528.3,780.0 529.3,785.2 530.1,786.8 C530.8,788.4 531.0,787.4 531.8,786.8 C532.7,786.1 534.5,783.2 535.3,782.7 C536.2,782.3 536.4,783.2 537.1,784.1 C537.8,785.1 538.8,788.1 539.7,788.5 C540.6,789.0 541.6,788.1 542.3,786.8 C543.1,785.5 543.5,782.4 544.1,780.6 C544.7,778.9 545.5,776.4 546.2,776.3 C546.9,776.1 547.7,777.7 548.5,779.8 C549.3,781.8 550.1,786.2 551.1,788.5 C552.1,790.9 553.4,793.3 554.5,793.8 C555.7,794.2 556.7,791.9 558.0,791.2 C559.3,790.4 561.0,790.1 562.4,789.4 C563.9,788.7 565.2,787.5 566.8,786.8 C568.4,786.0 570.4,786.0 572.0,785.0 C573.7,784.0 575.3,781.4 576.4,780.6 C577.6,779.9 578.0,780.1 579.1,780.3 C580.1,780.5 581.1,781.6 582.6,782.0 C584.0,782.5 586.1,782.7 587.8,782.7 C589.6,782.8 591.3,782.3 593.1,782.4 C594.8,782.5 596.7,782.7 598.3,783.3 C599.9,783.8 601.2,784.8 602.7,785.5 C604.2,786.3 605.5,787.4 607.1,788.0 C608.7,788.6 610.4,789.2 612.3,789.4 C614.2,789.6 617.5,789.4 618.5,789.4" fill="none" stroke="#f58025" stroke-width="1.75" stroke-linejoin="round"/><line x1="230.8" y1="749.3" x2="230.8" y2="821.3000000000001" stroke="#111" stroke-width="1.3" stroke-dasharray="4,2.5"/><path d="M133.6,748.8 V821.3000000000001 H619.6" fill="none" stroke="#3c3c3c" stroke-width="1.1"/><line x1="130.6" y1="754.5" x2="133.6" y2="754.5" stroke="#333" stroke-width="0.9"/><text x="129.1" y="757.5" font-size="8.4" fill="#222" text-anchor="end">5</text><line x1="130.6" y1="784.9" x2="133.6" y2="784.9" stroke="#333" stroke-width="0.9"/><text x="129.1" y="787.9" font-size="8.4" fill="#222" text-anchor="end">0</text><line x1="130.6" y1="815.2" x2="133.6" y2="815.2" stroke="#333" stroke-width="0.9"/><text x="129.1" y="818.2" font-size="8.4" fill="#222" text-anchor="end" textLength="10.4" lengthAdjust="spacingAndGlyphs">−5</text><line x1="133.6" y1="821.3000000000001" x2="133.6" y2="824.1" stroke="#333" stroke-width="0.9"/><text x="133.6" y="832.5" font-size="8.4" fill="#222" text-anchor="middle" textLength="9.6" lengthAdjust="spacingAndGlyphs">−1</text><line x1="230.8" y1="821.3000000000001" x2="230.8" y2="824.1" stroke="#333" stroke-width="0.9"/><text x="230.8" y="832.5" font-size="8.4" fill="#222" text-anchor="middle">0</text><line x1="328.0" y1="821.3000000000001" x2="328.0" y2="824.1" stroke="#333" stroke-width="0.9"/><text x="328.0" y="832.5" font-size="8.4" fill="#222" text-anchor="middle">1</text><line x1="425.2" y1="821.3000000000001" x2="425.2" y2="824.1" stroke="#333" stroke-width="0.9"/><text x="425.2" y="832.5" font-size="8.4" fill="#222" text-anchor="middle">2</text><line x1="522.4" y1="821.3000000000001" x2="522.4" y2="824.1" stroke="#333" stroke-width="0.9"/><text x="522.4" y="832.5" font-size="8.4" fill="#222" text-anchor="middle">3</text><line x1="619.6" y1="821.3000000000001" x2="619.6" y2="824.1" stroke="#333" stroke-width="0.9"/><text x="619.6" y="832.5" font-size="8.4" fill="#222" text-anchor="middle">4</text><text x="282.9" y="743.9" font-size="15.3" fill="#000">180</text><text x="311.6" y="740.9" font-size="10.5" fill="#000">°</text><text x="319.9" y="743.9" font-size="15.5" fill="#000">phase offset condition</text><text x="377.3" y="847.7" font-size="15.3" fill="#000" text-anchor="middle">Time (s)</text><text transform="translate(78.2,784.9) rotate(-90)" font-size="15.4" fill="#000" text-anchor="middle">Normalised</text><text transform="translate(94.4,784.9) rotate(-90)" font-size="15.4" fill="#000" text-anchor="middle">Amplitude</text><text transform="translate(111.3,784.9) rotate(-90)" font-size="15.4" fill="#000" text-anchor="middle">(a. u.)</text><line x1="540.3" y1="758.9" x2="556.6" y2="758.9" stroke="#3a7fc1" stroke-width="1.6"/><line x1="540.3" y1="770.1" x2="556.6" y2="770.1" stroke="#f58025" stroke-width="1.6"/><text x="562.4" y="761.8" font-size="8.2" fill="#222">Auditory ERP</text><text x="562.4" y="773.0" font-size="8.2" fill="#222">Visual ERP</text><line x1="340.0" y1="910.8" x2="413.0" y2="910.8" stroke="#bdbdbd" stroke-width="0.9"/><line x1="350.7" y1="936.6" x2="402.3" y2="885.0" stroke="#bdbdbd" stroke-width="0.9"/><line x1="376.5" y1="947.3" x2="376.5" y2="874.3" stroke="#bdbdbd" stroke-width="0.9"/><line x1="402.3" y1="936.6" x2="350.7" y2="885.0" stroke="#bdbdbd" stroke-width="0.9"/><path d="M376.5,910.8000000000001 L369.6,894.2 A18,18 0 0 0 363.8,898.1 Z" fill="#1f77b4" fill-opacity="0.06" stroke="#3a7fc1" stroke-width="0.9" stroke-linejoin="miter"/><path d="M376.5,910.8000000000001 L357.8,892.1 A26.5,26.5 0 0 0 352.0,900.7 Z" fill="#1f77b4" fill-opacity="0.06" stroke="#3a7fc1" stroke-width="0.9" stroke-linejoin="miter"/><path d="M376.5,910.8000000000001 L345.1,897.8 A34,34 0 0 0 342.5,910.8 Z" fill="#1f77b4" fill-opacity="0.06" stroke="#3a7fc1" stroke-width="0.9" stroke-linejoin="miter"/><path d="M376.5,910.8000000000001 L346.5,910.8 A30,30 0 0 0 348.8,922.3 Z" fill="#1f77b4" fill-opacity="0.06" stroke="#3a7fc1" stroke-width="0.9" stroke-linejoin="miter"/><path d="M376.5,910.8000000000001 L352.0,920.9 A26.5,26.5 0 0 0 357.8,929.5 Z" fill="#1f77b4" fill-opacity="0.06" stroke="#3a7fc1" stroke-width="0.9" stroke-linejoin="miter"/><path d="M376.5,910.8000000000001 L365.9,921.4 A15,15 0 0 0 370.8,924.7 Z" fill="#1f77b4" fill-opacity="0.06" stroke="#3a7fc1" stroke-width="0.9" stroke-linejoin="miter"/><circle cx="376.5" cy="910.8000000000001" r="36.5" fill="none" stroke="#333" stroke-width="1"/><text x="423.5" y="913.7" font-size="8.6" fill="#222" text-anchor="middle">0°</text><text x="410.1" y="880.1" font-size="8.6" fill="#222" text-anchor="middle">45°</text><text x="376.5" y="866.2" font-size="8.6" fill="#222" text-anchor="middle">90°</text><text x="342.9" y="880.1" font-size="8.6" fill="#222" text-anchor="middle">135°</text><text x="329.5" y="913.7" font-size="8.6" fill="#222" text-anchor="middle">180°</text><text x="342.9" y="947.3" font-size="8.6" fill="#222" text-anchor="middle">225°</text><text x="376.5" y="961.2" font-size="8.6" fill="#222" text-anchor="middle">270°</text><text x="410.1" y="947.3" font-size="8.6" fill="#222" text-anchor="middle">315°</text></g>
</svg>
</body></html>
